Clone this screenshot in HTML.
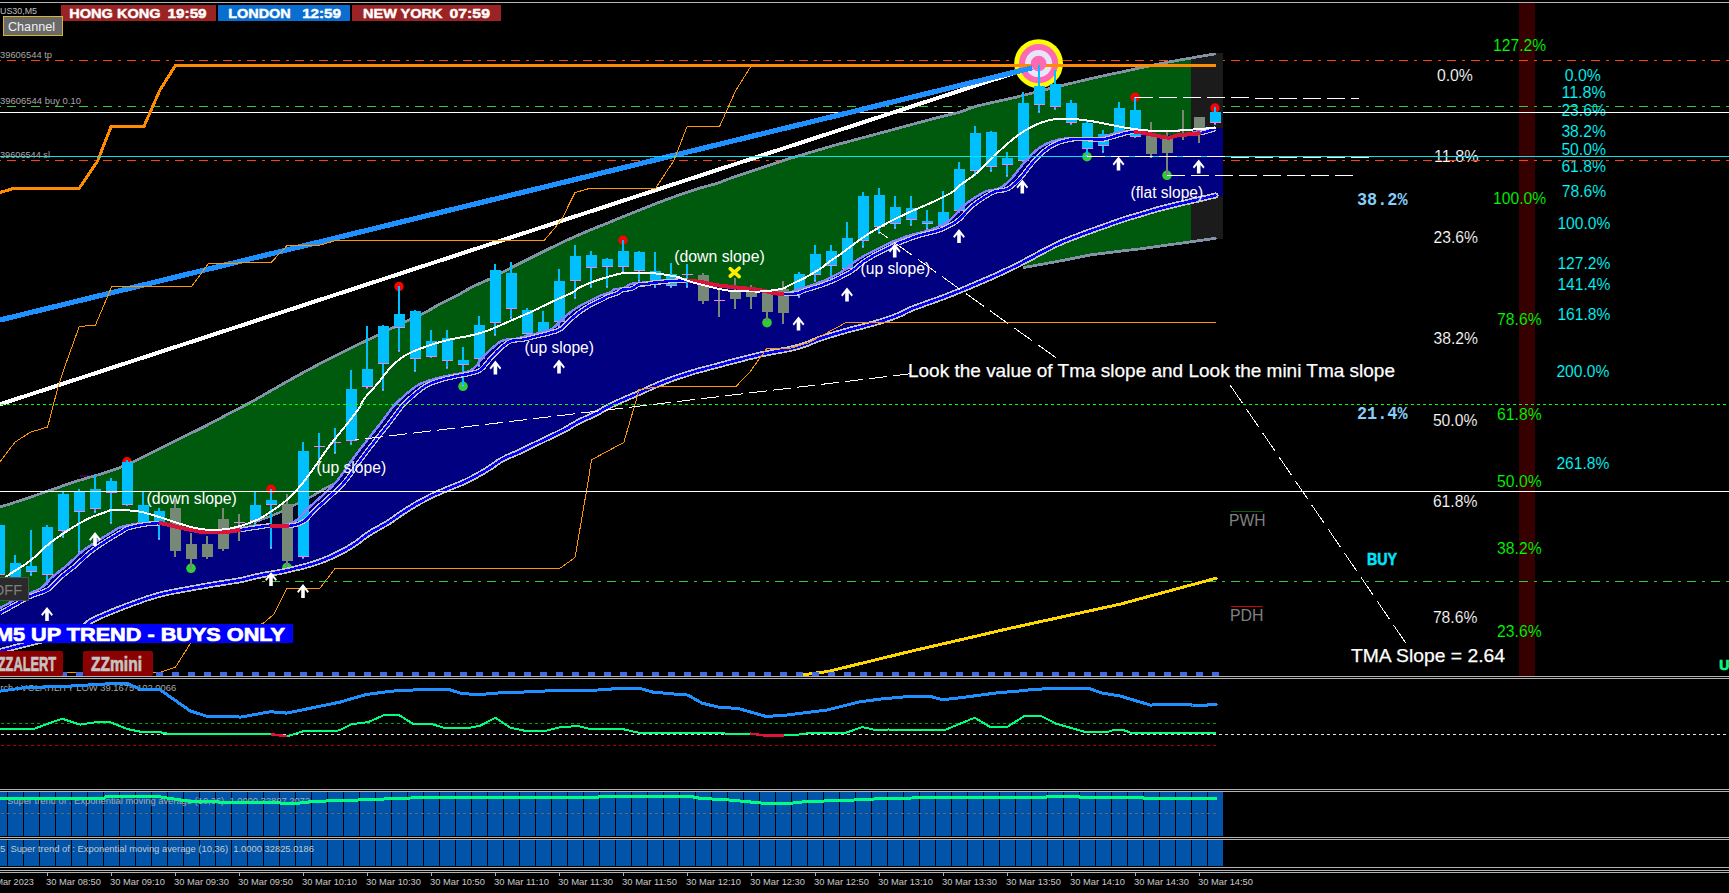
<!DOCTYPE html>
<html lang="en"><head><meta charset="utf-8"><title>US30 M5 chart</title>
<style>
html,body{margin:0;padding:0;background:#000;overflow:hidden}
svg{display:block}
text{white-space:pre}
</style></head>
<body>
<svg width="1729" height="893" viewBox="0 0 1729 893">
<g shape-rendering="crispEdges">
<rect x="0" y="0" width="1729" height="893" fill="#000000" />
<rect x="0" y="2" width="1729" height="1" fill="#b4b4b4" />
<rect x="1519" y="3" width="16" height="673" fill="#360000" />
</g>
<text x="1436.9" y="80.7" font-family="'Liberation Sans',sans-serif" font-size="16" fill="#ffffff" font-weight="normal" text-anchor="start" textLength="36" lengthAdjust="spacingAndGlyphs" stroke="#000" stroke-width="0.15">0.0%</text>
<text x="1434.1" y="162" font-family="'Liberation Sans',sans-serif" font-size="16" fill="#ffffff" font-weight="normal" text-anchor="start" textLength="44.5" lengthAdjust="spacingAndGlyphs" stroke="#000" stroke-width="0.15">11.8%</text>
<text x="1433.5" y="243.2" font-family="'Liberation Sans',sans-serif" font-size="16" fill="#ffffff" font-weight="normal" text-anchor="start" textLength="44.5" lengthAdjust="spacingAndGlyphs" stroke="#000" stroke-width="0.15">23.6%</text>
<text x="1433.5" y="344.4" font-family="'Liberation Sans',sans-serif" font-size="16" fill="#ffffff" font-weight="normal" text-anchor="start" textLength="44.5" lengthAdjust="spacingAndGlyphs" stroke="#000" stroke-width="0.15">38.2%</text>
<text x="1432.9" y="426.2" font-family="'Liberation Sans',sans-serif" font-size="16" fill="#ffffff" font-weight="normal" text-anchor="start" textLength="44.5" lengthAdjust="spacingAndGlyphs" stroke="#000" stroke-width="0.15">50.0%</text>
<text x="1432.9" y="507" font-family="'Liberation Sans',sans-serif" font-size="16" fill="#ffffff" font-weight="normal" text-anchor="start" textLength="44.5" lengthAdjust="spacingAndGlyphs" stroke="#000" stroke-width="0.15">61.8%</text>
<text x="1432.9" y="622.7" font-family="'Liberation Sans',sans-serif" font-size="16" fill="#ffffff" font-weight="normal" text-anchor="start" textLength="44.5" lengthAdjust="spacingAndGlyphs" stroke="#000" stroke-width="0.15">78.6%</text>
<text x="1493.1" y="50.5" font-family="'Liberation Sans',sans-serif" font-size="16" fill="#00ff00" font-weight="normal" text-anchor="start" textLength="53" lengthAdjust="spacingAndGlyphs" stroke="#000" stroke-width="0.15">127.2%</text>
<text x="1493.1" y="204.1" font-family="'Liberation Sans',sans-serif" font-size="16" fill="#00ff00" font-weight="normal" text-anchor="start" textLength="53" lengthAdjust="spacingAndGlyphs" stroke="#000" stroke-width="0.15">100.0%</text>
<text x="1497.1" y="325" font-family="'Liberation Sans',sans-serif" font-size="16" fill="#00ff00" font-weight="normal" text-anchor="start" textLength="44.5" lengthAdjust="spacingAndGlyphs" stroke="#000" stroke-width="0.15">78.6%</text>
<text x="1497.1" y="420.2" font-family="'Liberation Sans',sans-serif" font-size="16" fill="#00ff00" font-weight="normal" text-anchor="start" textLength="44.5" lengthAdjust="spacingAndGlyphs" stroke="#000" stroke-width="0.15">61.8%</text>
<text x="1497.1" y="487.4" font-family="'Liberation Sans',sans-serif" font-size="16" fill="#00ff00" font-weight="normal" text-anchor="start" textLength="44.5" lengthAdjust="spacingAndGlyphs" stroke="#000" stroke-width="0.15">50.0%</text>
<text x="1497.1" y="554.1" font-family="'Liberation Sans',sans-serif" font-size="16" fill="#00ff00" font-weight="normal" text-anchor="start" textLength="44.5" lengthAdjust="spacingAndGlyphs" stroke="#000" stroke-width="0.15">38.2%</text>
<text x="1497.1" y="637.3" font-family="'Liberation Sans',sans-serif" font-size="16" fill="#00ff00" font-weight="normal" text-anchor="start" textLength="44.5" lengthAdjust="spacingAndGlyphs" stroke="#000" stroke-width="0.15">23.6%</text>
<text x="1564.8" y="80.7" font-family="'Liberation Sans',sans-serif" font-size="16" fill="#00ffff" font-weight="normal" text-anchor="start" textLength="36" lengthAdjust="spacingAndGlyphs" stroke="#000" stroke-width="0.15">0.0%</text>
<text x="1561.4" y="98.2" font-family="'Liberation Sans',sans-serif" font-size="16" fill="#00ffff" font-weight="normal" text-anchor="start" textLength="44.5" lengthAdjust="spacingAndGlyphs" stroke="#000" stroke-width="0.15">11.8%</text>
<text x="1561.4" y="116.2" font-family="'Liberation Sans',sans-serif" font-size="16" fill="#00ffff" font-weight="normal" text-anchor="start" textLength="44.5" lengthAdjust="spacingAndGlyphs" stroke="#000" stroke-width="0.15">23.6%</text>
<text x="1561.4" y="136.9" font-family="'Liberation Sans',sans-serif" font-size="16" fill="#00ffff" font-weight="normal" text-anchor="start" textLength="44.5" lengthAdjust="spacingAndGlyphs" stroke="#000" stroke-width="0.15">38.2%</text>
<text x="1561.4" y="154.7" font-family="'Liberation Sans',sans-serif" font-size="16" fill="#00ffff" font-weight="normal" text-anchor="start" textLength="44.5" lengthAdjust="spacingAndGlyphs" stroke="#000" stroke-width="0.15">50.0%</text>
<text x="1561.4" y="172" font-family="'Liberation Sans',sans-serif" font-size="16" fill="#00ffff" font-weight="normal" text-anchor="start" textLength="44.5" lengthAdjust="spacingAndGlyphs" stroke="#000" stroke-width="0.15">61.8%</text>
<text x="1561.8" y="197" font-family="'Liberation Sans',sans-serif" font-size="16" fill="#00ffff" font-weight="normal" text-anchor="start" textLength="44.5" lengthAdjust="spacingAndGlyphs" stroke="#000" stroke-width="0.15">78.6%</text>
<text x="1557.4" y="229.1" font-family="'Liberation Sans',sans-serif" font-size="16" fill="#00ffff" font-weight="normal" text-anchor="start" textLength="53" lengthAdjust="spacingAndGlyphs" stroke="#000" stroke-width="0.15">100.0%</text>
<text x="1557.4" y="269.2" font-family="'Liberation Sans',sans-serif" font-size="16" fill="#00ffff" font-weight="normal" text-anchor="start" textLength="53" lengthAdjust="spacingAndGlyphs" stroke="#000" stroke-width="0.15">127.2%</text>
<text x="1557.4" y="290.3" font-family="'Liberation Sans',sans-serif" font-size="16" fill="#00ffff" font-weight="normal" text-anchor="start" textLength="53" lengthAdjust="spacingAndGlyphs" stroke="#000" stroke-width="0.15">141.4%</text>
<text x="1557.4" y="320.3" font-family="'Liberation Sans',sans-serif" font-size="16" fill="#00ffff" font-weight="normal" text-anchor="start" textLength="53" lengthAdjust="spacingAndGlyphs" stroke="#000" stroke-width="0.15">161.8%</text>
<text x="1556.4" y="377.1" font-family="'Liberation Sans',sans-serif" font-size="16" fill="#00ffff" font-weight="normal" text-anchor="start" textLength="53" lengthAdjust="spacingAndGlyphs" stroke="#000" stroke-width="0.15">200.0%</text>
<text x="1556.4" y="469.3" font-family="'Liberation Sans',sans-serif" font-size="16" fill="#00ffff" font-weight="normal" text-anchor="start" textLength="53" lengthAdjust="spacingAndGlyphs" stroke="#000" stroke-width="0.15">261.8%</text>
<g shape-rendering="crispEdges">
<line x1="0" y1="60.5" x2="1729" y2="60.5" stroke="#ff4500" stroke-width="1" stroke-dasharray="9 6 3 6" stroke-dashoffset="17"/>
<line x1="0" y1="106.5" x2="1729" y2="106.5" stroke="#32cd32" stroke-width="1" stroke-dasharray="9 6 3 6" stroke-dashoffset="17"/>
<line x1="0" y1="160.5" x2="1729" y2="160.5" stroke="#ff4500" stroke-width="1" stroke-dasharray="9 6 3 6" stroke-dashoffset="17"/>
<rect x="0" y="112" width="1729" height="1" fill="#ffffff" />
</g>
<g shape-rendering="crispEdges">
<polygon points="1191,58.0 1214.8,53.4 1223,53.4 1223,239 1215,239 1191,241.8" fill="#1b1b1b"/>
</g>
<polygon points="0.0,507.1 3.9,505.8 9.4,504.1 15.0,502.2 20.0,500.6 25.1,498.9 30.1,497.2 35.1,495.5 40.1,493.8 45.1,492.1 50.1,490.3 55.2,488.5 60.2,486.8 65.2,485.0 70.2,483.3 75.2,481.7 80.2,480.1 85.2,478.6 90.2,477.1 95.2,475.6 100.3,474.2 105.3,472.7 110.3,471.0 115.3,469.3 120.3,467.4 125.3,465.3 130.3,463.1 135.3,460.8 140.3,458.4 145.4,455.9 150.4,453.4 155.4,450.9 160.4,448.4 165.4,445.9 170.4,443.4 175.5,440.9 180.5,438.4 185.5,435.9 190.5,433.4 195.5,431.0 200.5,428.5 205.5,426.0 210.5,423.4 215.5,420.8 220.6,418.1 225.6,415.4 230.6,412.8 235.6,410.2 240.6,407.6 245.5,405.0 250.4,402.4 255.3,399.7 260.2,396.9 265.1,394.1 270.1,391.2 275.1,388.4 280.1,385.5 285.1,382.6 290.1,379.8 295.2,377.0 300.2,374.2 305.2,371.5 310.2,368.8 315.2,366.2 320.2,363.5 325.2,361.0 330.2,358.4 335.2,355.9 340.3,353.4 345.3,350.9 350.3,348.4 355.3,345.9 360.3,343.5 365.3,341.1 370.4,338.8 375.3,336.5 379.9,334.2 384.3,332.0 389.0,329.6 394.2,327.1 399.7,324.4 405.6,321.6 412.0,318.7 418.8,315.6 425.1,312.6 430.4,309.6 435.2,306.7 440.2,303.8 445.9,300.9 451.9,298.0 457.6,295.2 462.4,292.5 466.9,289.8 471.9,287.1 477.8,284.3 484.1,281.6 490.1,278.8 495.3,276.1 500.2,273.5 505.1,270.9 510.1,268.3 515.2,265.7 520.2,263.2 525.2,260.7 530.2,258.2 535.2,255.7 540.2,253.2 545.2,250.7 550.2,248.2 555.2,245.8 560.3,243.3 565.3,241.0 570.3,238.6 575.3,236.4 580.3,234.2 585.3,232.1 590.3,230.0 595.3,227.9 600.3,225.9 605.4,223.9 610.4,221.9 615.4,219.8 620.4,217.8 625.4,215.8 630.4,213.7 635.5,211.7 640.5,209.7 645.5,207.7 650.5,205.7 655.5,203.7 660.5,201.8 665.5,199.9 670.5,198.1 675.5,196.3 680.6,194.5 685.6,192.8 690.4,191.2 695.2,189.6 700.3,188.0 706.0,186.4 712.0,184.8 717.5,183.2 722.0,181.6 725.9,180.0 730.1,178.4 734.9,176.8 740.0,175.1 745.1,173.4 750.1,171.7 755.2,170.0 760.2,168.2 765.2,166.5 770.2,164.8 775.2,163.2 780.2,161.5 785.2,160.0 790.2,158.4 795.2,156.9 800.3,155.4 805.3,153.9 810.3,152.4 815.3,150.9 820.3,149.4 825.3,148.0 830.3,146.5 835.3,145.1 840.3,143.7 845.4,142.4 850.4,141.0 855.4,139.7 860.4,138.3 865.4,137.0 870.4,135.6 875.5,134.3 880.5,132.9 885.5,131.6 890.5,130.3 895.5,128.9 900.5,127.5 905.5,126.2 910.5,124.8 915.5,123.5 920.6,122.1 925.6,120.8 930.4,119.5 935.3,118.2 940.6,116.8 946.8,115.3 953.5,113.8 960.0,112.1 965.3,110.2 970.3,108.2 977.6,105.9 988.7,103.3 1001.9,100.4 1015.2,97.4 1027.7,94.2 1040.3,91.0 1052.8,87.8 1065.3,84.7 1077.9,81.7 1090.4,78.7 1102.9,75.9 1115.5,73.2 1128.0,70.6 1140.1,67.9 1152.2,65.3 1165.6,62.6 1183.0,59.4 1191.0,58.0 1191.0,134.2 1189.0,134.3 1183.0,134.8 1178.0,135.3 1174.7,136.0 1172.6,136.8 1170.5,137.5 1167.5,137.6 1163.2,137.0 1158.0,136.0 1152.8,134.8 1148.0,133.8 1143.9,133.1 1140.2,132.4 1136.6,132.0 1132.9,131.9 1129.1,132.4 1125.4,133.2 1121.6,134.3 1117.9,135.3 1114.2,136.4 1110.4,137.6 1106.7,138.7 1102.9,139.4 1099.2,139.6 1095.4,139.5 1091.7,139.2 1087.8,139.1 1083.7,139.0 1079.5,139.0 1075.4,139.0 1071.3,139.4 1067.4,140.1 1063.5,141.1 1059.7,142.2 1056.2,143.6 1053.0,145.1 1050.0,146.9 1047.1,148.8 1044.2,151.1 1041.2,153.7 1038.2,156.7 1035.2,159.9 1032.2,163.2 1029.2,166.9 1026.2,170.8 1023.2,174.7 1020.2,178.2 1017.2,181.3 1014.2,184.2 1011.2,186.7 1008.1,188.7 1004.8,189.9 1001.4,190.4 998.0,190.8 994.6,191.7 991.2,193.3 987.8,195.2 984.5,197.2 981.4,199.2 978.6,201.1 976.0,202.9 973.5,204.8 971.0,207.0 968.3,209.7 965.6,212.7 962.9,215.7 960.5,218.2 958.5,220.0 956.9,221.2 955.2,222.4 953.2,223.6 950.7,225.0 947.8,226.5 944.9,227.9 942.0,229.2 939.2,230.2 936.4,231.1 933.6,231.8 930.8,232.6 928.0,233.3 925.2,234.0 922.4,234.6 919.6,235.4 916.8,236.3 914.0,237.2 911.2,238.3 908.4,239.3 905.6,240.4 902.8,241.4 900.0,242.6 897.2,243.8 894.4,245.1 891.6,246.5 888.8,248.0 886.0,249.4 883.2,250.8 880.4,252.1 877.6,253.4 874.8,254.9 872.0,256.5 869.2,258.1 866.4,259.8 863.6,261.7 860.8,263.8 858.0,266.2 855.2,268.5 852.4,270.6 849.5,272.4 846.6,274.0 843.8,275.5 841.2,276.8 839.0,278.0 837.0,278.9 835.1,279.9 832.8,280.9 830.0,282.0 827.0,283.2 823.9,284.4 820.5,285.6 816.7,286.8 812.7,288.0 808.7,289.2 805.4,290.2 803.0,291.1 801.2,291.9 799.6,292.6 797.9,293.2 796.0,293.6 794.1,293.7 792.2,293.8 790.4,293.9 788.9,294.0 787.5,294.0 786.1,294.0 784.4,293.9 782.5,293.8 780.4,293.7 778.1,293.6 775.3,293.2 772.0,292.6 768.2,291.8 764.2,290.9 760.3,290.2 756.6,289.6 752.8,289.2 749.1,288.7 745.3,288.3 741.5,287.9 737.8,287.6 734.0,287.2 730.2,286.8 726.4,286.4 722.7,285.9 718.9,285.5 715.2,284.9 711.5,284.2 707.8,283.4 704.0,282.6 700.2,281.9 696.0,281.4 691.7,281.0 687.5,280.7 684.0,280.5 681.2,280.5 679.0,280.6 677.1,280.8 675.3,280.9 673.6,281.0 672.1,281.0 670.6,281.1 668.9,281.2 666.8,281.5 664.5,281.7 662.3,282.0 660.2,282.2 658.5,282.3 657.0,282.4 655.5,282.4 653.9,282.6 651.8,282.9 649.5,283.4 647.3,283.8 645.2,284.1 643.5,284.2 641.9,284.1 640.5,284.2 638.9,284.5 637.1,285.4 635.3,286.6 633.4,287.8 631.4,288.7 629.2,289.1 626.8,289.3 624.5,289.4 622.6,289.7 621.3,290.4 620.3,291.2 619.3,292.2 617.9,293.1 615.5,293.9 612.7,294.8 609.9,295.7 607.6,296.5 606.2,297.1 605.2,297.7 604.3,298.3 602.9,299.1 600.5,300.2 597.7,301.5 594.9,302.9 592.6,304.0 591.1,304.7 590.1,305.2 589.1,305.7 587.8,306.6 585.8,307.8 583.5,309.3 581.1,310.9 578.8,312.6 576.5,314.4 574.3,316.3 572.0,318.3 569.8,320.3 567.5,322.5 565.2,324.9 562.9,327.2 560.5,329.1 558.0,330.4 555.4,331.4 552.7,332.1 549.9,332.9 547.1,333.7 544.2,334.4 541.1,335.1 537.9,335.9 534.3,336.8 530.4,337.8 526.5,338.8 522.9,339.6 519.6,340.0 516.6,340.1 513.6,340.4 510.8,341.1 508.0,342.5 505.4,344.4 502.8,346.5 500.3,348.6 498.0,350.7 495.8,352.9 493.6,355.2 491.3,357.7 488.8,360.7 486.2,364.0 483.5,367.2 480.8,369.7 478.3,371.2 475.8,372.2 473.2,372.8 470.2,373.5 466.8,374.3 463.0,375.0 459.1,375.7 455.2,376.5 451.5,377.3 447.7,378.2 444.0,379.1 440.2,380.2 436.4,381.4 432.7,382.7 428.9,384.2 425.1,386.2 421.2,388.9 417.2,392.1 413.3,395.4 410.0,398.4 407.4,400.7 405.2,402.7 403.2,404.8 400.9,407.4 398.4,410.7 395.7,414.4 392.8,418.4 389.7,422.6 386.3,426.8 382.7,431.3 379.0,435.9 375.3,440.6 371.6,445.4 367.8,450.2 364.1,455.2 360.3,460.2 356.6,465.5 352.8,471.0 349.1,476.3 345.3,481.2 341.5,485.4 337.8,489.2 334.0,492.7 330.2,496.2 326.4,499.7 322.5,503.2 318.7,506.5 315.2,509.8 312.1,513.1 309.2,516.4 306.3,519.4 303.2,521.8 299.7,523.5 296.0,524.7 292.2,525.5 288.1,526.0 283.7,526.2 278.9,526.0 274.3,525.7 270.1,525.6 266.7,525.9 263.8,526.3 260.8,526.8 257.5,527.3 253.5,527.9 249.0,528.6 244.5,529.3 240.3,530.0 236.5,530.5 233.0,531.1 229.5,531.5 225.6,531.9 221.2,532.2 216.4,532.3 211.7,532.4 207.5,532.3 204.1,532.1 201.3,531.8 198.6,531.3 195.5,530.8 192.0,530.2 188.2,529.4 184.3,528.6 180.5,527.8 176.6,526.9 172.5,525.8 168.6,524.8 165.4,524.1 163.2,523.6 161.6,523.4 160.1,523.3 157.9,523.3 154.7,523.4 150.9,523.7 146.8,524.1 142.9,524.7 139.0,525.4 134.9,526.2 131.0,527.2 127.8,528.1 125.6,529.1 124.0,530.0 122.5,531.1 120.3,532.6 117.1,534.5 113.3,536.7 109.2,539.1 105.3,541.6 101.5,544.0 97.7,546.6 94.0,549.2 90.2,552.1 86.4,555.3 82.7,558.8 78.9,562.3 75.2,565.7 71.4,568.8 67.5,571.8 63.7,574.8 60.2,577.7 57.1,580.8 54.3,583.9 51.5,586.8 48.1,589.4 43.9,591.5 39.3,593.2 34.5,594.7 30.1,596.5 26.1,598.5 22.4,600.6 18.7,602.7 15.0,604.8 10.9,607.0 6.6,609.4 2.7,611.5 0.0,613.0" fill="#005a0e"/>
<polygon points="1024.0,261.7 1026.6,260.3 1030.4,258.3 1034.2,256.3 1037.9,254.2 1041.6,252.2 1045.4,250.2 1049.1,248.3 1052.8,246.4 1056.6,244.5 1060.5,242.7 1064.6,240.9 1068.8,239.3 1073.0,237.6 1077.2,236.1 1081.2,234.6 1085.1,233.1 1089.0,231.7 1092.9,230.3 1096.7,228.9 1100.5,227.6 1104.2,226.3 1108.0,225.0 1111.7,223.6 1115.4,222.3 1119.1,221.0 1123.0,219.7 1127.2,218.3 1131.6,217.0 1136.0,215.8 1140.2,214.5 1144.2,213.3 1148.0,212.1 1151.8,211.0 1155.5,209.9 1159.3,208.8 1163.0,207.9 1166.7,206.9 1170.5,206.0 1174.3,205.1 1178.0,204.2 1181.8,203.3 1185.6,202.4 1189.4,201.6 1191.0,201.2 1191.0,241.8 1140.0,248.9 1120.6,251.1 1090.5,254.9 1060.5,260.9 1024.0,267.5" fill="#005a0e"/>
<polygon points="254.5,522.4 259.0,520.6 280.1,512.3 295.1,504.8 310.2,497.3 325.2,488.3 334.2,483.8 334.2,492.5 334.0,492.7 330.2,496.2 326.4,499.7 322.5,503.2 318.7,506.5 315.2,509.8 312.1,513.1 309.2,516.4 306.3,519.4 303.2,521.8 299.7,523.5 296.0,524.7 292.2,525.5 288.1,526.0 283.7,526.2 278.9,526.0 274.3,525.7 270.1,525.6 266.7,525.9 263.8,526.3 260.8,526.8 257.5,527.3 254.5,527.8" fill="#00082a"/>
<polyline points="254.5,522.4 259.0,520.6 280.1,512.3 295.1,504.8 310.2,497.3 325.2,488.3 334.2,483.8" fill="none" stroke="#8492a6" stroke-width="2.4"  shape-rendering="crispEdges"/>
<rect x="80" y="475" width="13" height="2" fill="#3a0040" />
<polygon points="0.0,608.0 2.9,606.4 7.0,604.2 10.7,602.1 14.4,600.0 18.1,597.9 22.1,595.9 26.5,594.1 31.3,592.6 35.9,590.9 40.1,588.8 43.5,586.2 46.3,583.3 49.1,580.2 52.2,577.1 55.7,574.2 59.5,571.2 63.4,568.2 67.2,565.1 70.9,561.7 74.7,558.2 78.4,554.7 82.2,551.5 86.0,548.6 89.7,546.0 93.5,543.4 97.3,541.0 101.2,538.5 105.3,536.1 109.1,533.9 112.3,532.0 114.5,530.5 116.0,529.4 117.6,528.5 119.8,527.5 123.0,526.6 126.9,525.6 131.0,524.8 134.9,524.1 138.8,523.5 142.9,523.1 146.7,522.8 149.9,522.7 152.1,522.7 153.6,522.8 155.2,523.0 157.4,523.5 160.6,524.2 164.5,525.2 168.6,526.3 172.5,527.2 176.3,528.0 180.2,528.8 184.0,529.6 187.5,530.2 190.6,530.7 193.3,531.2 196.1,531.5 199.5,531.7 203.7,531.8 208.4,531.7 213.2,531.6 217.6,531.3 221.5,530.9 225.0,530.5 228.5,529.9 232.3,529.4 236.5,528.7 241.0,528.0 245.5,527.3 249.5,526.7 252.8,526.2 255.8,525.7 258.7,525.3 262.1,525.0 266.3,525.1 270.9,525.4 275.7,525.6 280.1,525.4 284.2,524.9 288.0,524.1 291.7,522.9 295.2,521.2 298.3,518.8 301.2,515.8 304.1,512.5 307.2,509.2 310.7,505.9 314.5,502.6 318.4,499.1 322.2,495.6 326.0,492.1 329.8,488.6 333.5,484.8 337.3,480.6 341.1,475.7 344.8,470.4 348.6,464.9 352.3,459.6 356.1,454.6 359.8,449.6 363.6,444.8 367.3,440.0 371.0,435.3 374.7,430.7 378.3,426.2 381.7,421.9 384.8,417.8 387.7,413.8 390.4,410.1 392.9,406.8 395.2,404.2 397.2,402.1 399.4,400.1 402.0,397.8 405.3,394.8 409.2,391.5 413.2,388.3 417.1,385.6 420.9,383.6 424.7,382.1 428.4,380.8 432.2,379.6 436.0,378.5 439.7,377.6 443.5,376.7 447.2,375.9 451.1,375.1 455.0,374.4 458.8,373.7 462.2,372.9 465.2,372.2 467.8,371.6 470.3,370.6 472.8,369.1 475.5,366.6 478.2,363.4 480.8,360.1 483.3,357.1 485.6,354.6 487.8,352.3 490.0,350.1 492.3,348.0 494.8,345.9 497.4,343.8 500.0,341.9 502.8,340.5 505.6,339.8 508.6,339.5 511.6,339.4 514.9,339.0 518.5,338.2 522.4,337.2 526.3,336.2 529.9,335.3 533.1,334.5 536.2,333.8 539.1,333.1 541.9,332.3 544.7,331.5 547.4,330.8 550.0,329.8 552.5,328.5 554.9,326.6 557.2,324.3 559.5,321.9 561.8,319.7 564.0,317.7 566.3,315.7 568.5,313.8 570.8,312.0 573.1,310.3 575.5,308.7 577.8,307.2 579.8,305.9 581.1,305.1 582.1,304.6 583.1,304.1 584.6,303.4 586.9,302.3 589.7,300.9 592.5,299.6 594.9,298.4 596.3,297.7 597.2,297.1 598.2,296.5 599.6,295.9 601.9,295.1 604.7,294.2 607.5,293.3 609.9,292.4 611.3,291.6 612.3,290.6 613.3,289.8 614.6,289.1 616.5,288.8 618.8,288.7 621.2,288.5 623.4,288.1 625.4,287.2 627.3,286.0 629.1,284.8 630.9,283.9 632.5,283.6 633.9,283.5 635.5,283.6 637.2,283.5 639.3,283.2 641.5,282.8 643.8,282.3 645.9,282.0 647.5,281.8 649.0,281.8 650.5,281.7 652.2,281.6 654.3,281.4 656.5,281.1 658.8,280.9 660.9,280.6 662.6,280.5 664.1,280.4 665.6,280.4 667.3,280.3 669.1,280.2 671.0,280.0 673.2,279.9 676.0,279.9 679.5,280.1 683.7,280.4 688.0,280.8 692.2,281.3 696.0,282.0 699.8,282.8 703.5,283.6 707.2,284.3 710.9,284.9 714.7,285.3 718.4,285.8 722.2,286.2 726.0,286.6 729.8,287.0 733.5,287.3 737.3,287.7 741.1,288.1 744.8,288.6 748.6,289.0 752.3,289.6 756.2,290.3 760.2,291.2 764.0,292.0 767.3,292.6 770.1,293.0 772.4,293.1 774.5,293.2 776.4,293.3 778.1,293.4 779.5,293.4 780.9,293.4 782.4,293.3 784.2,293.2 786.1,293.1 788.0,293.0 789.9,292.6 791.6,292.0 793.2,291.3 795.0,290.5 797.4,289.6 800.7,288.6 804.7,287.4 808.7,286.2 812.5,285.0 815.9,283.8 819.0,282.6 822.0,281.4 824.8,280.3 827.1,279.3 829.0,278.3 831.0,277.4 833.2,276.2 835.8,274.9 838.6,273.4 841.5,271.8 844.4,270.0 847.2,267.9 850.0,265.6 852.8,263.2 855.6,261.1 858.4,259.2 861.2,257.5 864.0,255.9 866.8,254.3 869.6,252.8 872.4,251.5 875.2,250.2 878.0,248.8 880.8,247.4 883.6,245.9 886.4,244.5 889.2,243.2 892.0,242.0 894.8,240.8 897.6,239.8 900.4,238.7 903.2,237.7 906.0,236.6 908.8,235.7 911.6,234.8 914.4,234.0 917.2,233.4 920.0,232.7 922.8,232.0 925.6,231.2 928.4,230.5 931.2,229.6 934.0,228.6 936.9,227.3 939.8,225.9 942.7,224.4 945.2,223.0 947.2,221.8 948.9,220.7 950.5,219.4 952.5,217.6 954.9,215.1 957.6,212.1 960.3,209.1 963.0,206.4 965.5,204.2 968.0,202.3 970.6,200.5 973.4,198.7 976.5,196.6 979.8,194.6 983.2,192.7 986.6,191.1 990.0,190.2 993.4,189.8 996.8,189.3 1000.1,188.1 1003.2,186.1 1006.2,183.6 1009.2,180.7 1012.2,177.6 1015.2,174.1 1018.2,170.2 1021.2,166.3 1024.2,162.6 1027.2,159.3 1030.2,156.1 1033.2,153.1 1036.2,150.5 1039.1,148.2 1042.0,146.3 1045.0,144.5 1048.2,143.0 1051.7,141.6 1055.5,140.5 1059.4,139.5 1063.3,138.8 1067.4,138.4 1071.5,138.4 1075.7,138.4 1079.8,138.5 1083.7,138.6 1087.4,138.9 1091.2,139.0 1094.9,138.8 1098.7,138.1 1102.4,137.0 1106.2,135.8 1109.9,134.7 1113.6,133.7 1117.4,132.6 1121.1,131.8 1124.9,131.3 1128.6,131.4 1132.2,131.8 1135.9,132.5 1140.0,133.2 1144.8,134.2 1150.0,135.4 1155.2,136.4 1159.5,137.0 1162.5,136.9 1164.6,136.2 1166.7,135.4 1170.0,134.7 1175.0,134.2 1181.0,133.7 1187.2,133.2 1192.6,132.5 1197.2,131.4 1201.5,130.1 1205.1,128.9 1207.6,128.0 1210.0,128.0 1216.8,128.2 1223.0,128.2 1223.0,196.5 1216.8,196.5 1212.9,196.1 1209.0,197.0 1204.7,198.1 1200.6,199.0 1196.9,199.9 1193.1,200.7 1189.4,201.6 1185.6,202.4 1181.8,203.3 1178.0,204.2 1174.3,205.1 1170.5,206.0 1166.7,206.9 1163.0,207.9 1159.3,208.8 1155.5,209.9 1151.8,211.0 1148.0,212.1 1144.2,213.3 1140.2,214.5 1136.0,215.8 1131.6,217.0 1127.2,218.3 1123.0,219.7 1119.1,221.0 1115.4,222.3 1111.7,223.6 1108.0,225.0 1104.2,226.3 1100.5,227.6 1096.7,228.9 1092.9,230.3 1089.0,231.7 1085.1,233.1 1081.2,234.6 1077.2,236.1 1073.0,237.6 1068.8,239.3 1064.6,240.9 1060.5,242.7 1056.6,244.5 1052.8,246.4 1049.1,248.3 1045.4,250.2 1041.6,252.2 1037.9,254.2 1034.2,256.3 1030.4,258.3 1026.6,260.3 1022.9,262.3 1019.1,264.3 1015.3,266.2 1011.5,268.0 1007.8,269.8 1004.0,271.6 1000.3,273.3 996.6,275.0 992.8,276.7 989.1,278.3 985.3,279.9 981.5,281.6 977.8,283.2 974.0,284.8 970.2,286.4 966.4,288.0 962.7,289.6 958.9,291.1 955.2,292.6 951.5,294.1 947.7,295.5 944.0,297.0 940.2,298.4 936.4,299.8 932.6,301.1 928.9,302.5 925.1,303.8 921.3,305.2 917.4,306.6 913.7,307.9 910.1,309.4 907.0,310.8 904.2,312.3 901.2,313.9 897.5,315.5 893.1,317.2 888.1,318.9 882.7,320.8 876.5,322.6 869.5,324.6 861.6,326.7 853.5,328.7 846.0,330.8 839.0,332.8 832.3,334.8 826.0,336.7 820.5,338.5 816.0,340.2 812.3,341.7 808.9,343.2 805.4,344.5 801.8,345.7 798.4,346.8 794.7,347.8 790.4,348.8 785.2,349.9 779.4,350.9 773.5,351.9 767.8,353.0 762.5,354.1 757.4,355.3 752.4,356.5 747.6,357.6 743.1,358.8 738.7,359.9 734.5,361.0 730.4,362.1 726.5,363.1 722.9,364.1 719.3,365.1 715.6,366.1 711.8,367.0 708.1,368.0 704.3,369.0 700.5,370.0 696.7,371.0 693.0,372.1 689.2,373.3 685.5,374.5 681.8,375.7 678.0,376.9 674.3,378.2 670.5,379.6 666.7,381.0 663.0,382.5 659.2,384.0 655.4,385.6 651.7,387.2 647.9,388.9 644.1,390.7 640.2,392.5 636.0,394.3 631.6,396.1 627.2,398.0 623.0,399.8 619.0,401.6 615.2,403.4 611.5,405.1 608.0,406.9 604.7,408.7 601.7,410.4 598.7,412.2 595.3,414.0 591.3,415.9 587.0,417.8 582.6,419.8 578.6,421.7 575.1,423.7 571.8,425.6 568.6,427.6 565.2,429.5 561.6,431.4 557.8,433.3 554.0,435.1 550.2,436.9 546.4,438.7 542.7,440.5 538.9,442.3 535.1,444.1 531.4,445.9 527.8,447.7 524.0,449.6 520.1,451.4 515.8,453.4 511.1,455.3 506.6,457.3 502.5,459.4 499.0,461.4 496.0,463.5 493.1,465.6 490.0,467.7 486.7,469.7 483.4,471.7 480.0,473.7 476.6,475.6 473.3,477.5 469.9,479.2 466.5,480.9 463.1,482.5 459.4,484.1 455.6,485.6 451.8,487.1 448.0,488.7 444.2,490.3 440.5,491.8 436.8,493.5 433.0,495.2 429.2,497.1 425.5,499.0 421.7,501.0 417.9,503.0 414.2,505.2 410.4,507.5 406.7,509.9 402.9,512.3 399.2,514.8 395.6,517.4 391.9,520.0 387.9,522.7 383.3,525.3 378.4,528.1 373.5,530.8 369.1,533.5 365.3,536.1 361.9,538.7 358.7,541.3 355.3,543.7 351.6,546.0 347.8,548.3 344.0,550.5 340.2,552.5 336.4,554.4 332.7,556.2 328.9,557.9 325.2,559.4 321.5,560.9 317.7,562.2 314.0,563.5 310.2,564.6 306.4,565.7 302.7,566.7 298.9,567.6 295.1,568.5 291.4,569.4 287.8,570.3 284.0,571.1 280.1,571.9 275.8,572.7 271.1,573.5 266.6,574.3 262.5,575.0 258.9,575.8 255.7,576.5 252.8,577.1 250.0,577.8 247.6,578.4 245.5,579.0 243.3,579.5 240.6,580.1 237.2,580.7 233.5,581.3 229.5,581.9 225.6,582.5 221.8,583.1 218.1,583.7 214.3,584.3 210.5,585.0 206.7,585.6 203.0,586.3 199.2,586.9 195.5,587.6 191.8,588.3 188.0,589.0 184.3,589.6 180.5,590.3 176.7,591.0 173.0,591.7 169.2,592.5 165.4,593.3 161.6,594.2 157.9,595.2 154.2,596.3 150.4,597.4 146.6,598.6 142.9,599.9 139.1,601.3 135.3,602.6 131.5,604.0 127.8,605.4 124.0,606.8 120.3,608.2 116.6,609.7 112.8,611.2 109.1,612.7 105.3,614.3 101.5,616.0 97.6,617.7 93.8,619.5 90.2,621.4 87.5,623.5 85.3,625.8 82.6,628.0 78.2,630.3 71.7,632.6 63.7,634.8 54.6,637.1 45.0,639.5 33.5,642.5 20.4,645.8 8.4,648.9 0.0,651.0" fill="#000080"/>
<circle cx="127" cy="461.7" r="4.7" fill="#ff0000"/>
<circle cx="271" cy="489.3" r="4.7" fill="#ff0000"/>
<circle cx="399" cy="286.5" r="4.7" fill="#ff0000"/>
<circle cx="623" cy="240.3" r="4.7" fill="#ff0000"/>
<circle cx="1135" cy="97.3" r="4.7" fill="#ff0000"/>
<circle cx="1215" cy="108" r="4.7" fill="#ff0000"/>
<circle cx="191" cy="568.3" r="4.8" fill="#32cd32"/>
<circle cx="287" cy="567.5" r="4.8" fill="#32cd32"/>
<circle cx="463" cy="386.3" r="4.8" fill="#32cd32"/>
<circle cx="767" cy="322.7" r="4.8" fill="#32cd32"/>
<circle cx="1087" cy="156.7" r="4.8" fill="#32cd32"/>
<circle cx="1167" cy="175.3" r="4.8" fill="#32cd32"/>
<polyline points="0.0,507.1 3.9,505.8 9.4,504.1 15.0,502.2 20.0,500.6 25.1,498.9 30.1,497.2 35.1,495.5 40.1,493.8 45.1,492.1 50.1,490.3 55.2,488.5 60.2,486.8 65.2,485.0 70.2,483.3 75.2,481.7 80.2,480.1 85.2,478.6 90.2,477.1 95.2,475.6 100.3,474.2 105.3,472.7 110.3,471.0 115.3,469.3 120.3,467.4 125.3,465.3 130.3,463.1 135.3,460.8 140.3,458.4 145.4,455.9 150.4,453.4 155.4,450.9 160.4,448.4 165.4,445.9 170.4,443.4 175.5,440.9 180.5,438.4 185.5,435.9 190.5,433.4 195.5,431.0 200.5,428.5 205.5,426.0 210.5,423.4 215.5,420.8 220.6,418.1 225.6,415.4 230.6,412.8 235.6,410.2 240.6,407.6 245.5,405.0 250.4,402.4 255.3,399.7 260.2,396.9 265.1,394.1 270.1,391.2 275.1,388.4 280.1,385.5 285.1,382.6 290.1,379.8 295.2,377.0 300.2,374.2 305.2,371.5 310.2,368.8 315.2,366.2 320.2,363.5 325.2,361.0 330.2,358.4 335.2,355.9 340.3,353.4 345.3,350.9 350.3,348.4 355.3,345.9 360.3,343.5 365.3,341.1 370.4,338.8 375.3,336.5 379.9,334.2 384.3,332.0 389.0,329.6 394.2,327.1 399.7,324.4 405.6,321.6 412.0,318.7 418.8,315.6 425.1,312.6 430.4,309.6 435.2,306.7 440.2,303.8 445.9,300.9 451.9,298.0 457.6,295.2 462.4,292.5 466.9,289.8 471.9,287.1 477.8,284.3 484.1,281.6 490.1,278.8 495.3,276.1 500.2,273.5 505.1,270.9 510.1,268.3 515.2,265.7 520.2,263.2 525.2,260.7 530.2,258.2 535.2,255.7 540.2,253.2 545.2,250.7 550.2,248.2 555.2,245.8 560.3,243.3 565.3,241.0 570.3,238.6 575.3,236.4 580.3,234.2 585.3,232.1 590.3,230.0 595.3,227.9 600.3,225.9 605.4,223.9 610.4,221.9 615.4,219.8 620.4,217.8 625.4,215.8 630.4,213.7 635.5,211.7 640.5,209.7 645.5,207.7 650.5,205.7 655.5,203.7 660.5,201.8 665.5,199.9 670.5,198.1 675.5,196.3 680.6,194.5 685.6,192.8 690.4,191.2 695.2,189.6 700.3,188.0 706.0,186.4 712.0,184.8 717.5,183.2 722.0,181.6 725.9,180.0 730.1,178.4 734.9,176.8 740.0,175.1 745.1,173.4 750.1,171.7 755.2,170.0 760.2,168.2 765.2,166.5 770.2,164.8 775.2,163.2 780.2,161.5 785.2,160.0 790.2,158.4 795.2,156.9 800.3,155.4 805.3,153.9 810.3,152.4 815.3,150.9 820.3,149.4 825.3,148.0 830.3,146.5 835.3,145.1 840.3,143.7 845.4,142.4 850.4,141.0 855.4,139.7 860.4,138.3 865.4,137.0 870.4,135.6 875.5,134.3 880.5,132.9 885.5,131.6 890.5,130.3 895.5,128.9 900.5,127.5 905.5,126.2 910.5,124.8 915.5,123.5 920.6,122.1 925.6,120.8 930.4,119.5 935.3,118.2 940.6,116.8 946.8,115.3 953.5,113.8 960.0,112.1 965.3,110.2 970.3,108.2 977.6,105.9 988.7,103.3 1001.9,100.4 1015.2,97.4 1027.7,94.2 1040.3,91.0 1052.8,87.8 1065.3,84.7 1077.9,81.7 1090.4,78.7 1102.9,75.9 1115.5,73.2 1128.0,70.6 1140.1,67.9 1152.2,65.3 1165.6,62.6 1183.0,59.4 1201.6,56.2 1214.8,53.9" fill="none" stroke="#8492a6" stroke-width="2.8" stroke-linecap="round" shape-rendering="crispEdges"/>
<polyline points="1024.0,267.5 1060.5,260.9 1090.5,254.9 1120.6,251.1 1140.0,248.9 1215.2,238.4" fill="none" stroke="#8492a6" stroke-width="2.8" stroke-linecap="round" shape-rendering="crispEdges"/>
<polyline points="0.0,192.5 13.4,188.5 79.0,188.5 97.5,161.3 111.0,126.7 143.8,126.7 159.6,90.7 175.4,65.5 1216.0,65.5" fill="none" stroke="#ff8c00" stroke-width="3" stroke-linejoin="round" shape-rendering="crispEdges"/>
<polyline points="0.0,404.3 1030.0,67.8" fill="none" stroke="#ffffff" stroke-width="4"  shape-rendering="crispEdges"/>
<polyline points="0.0,320.0 1032.3,67.8" fill="none" stroke="#1e90ff" stroke-width="5.2"  shape-rendering="crispEdges"/>
<g shape-rendering="crispEdges">
<rect x="-2" y="520" width="2" height="59" fill="#00bfff" />
<rect x="-6" y="525" width="11" height="50" fill="#00bfff" />
<rect x="-6" y="574" width="11" height="1" fill="#ee82ee" />
<rect x="-2" y="577" width="2" height="1" fill="#ee82ee" />
<rect x="14" y="555" width="2" height="30" fill="#00bfff" />
<rect x="10" y="563" width="11" height="18" fill="#00bfff" />
<rect x="10" y="580" width="11" height="1" fill="#ee82ee" />
<rect x="14" y="583" width="2" height="1" fill="#ee82ee" />
<rect x="30" y="530" width="2" height="46" fill="#00bfff" />
<rect x="26" y="566" width="11" height="6" fill="#00bfff" />
<rect x="26" y="571" width="11" height="1" fill="#ee82ee" />
<rect x="30" y="574" width="2" height="1" fill="#ee82ee" />
<rect x="46" y="525" width="2" height="60" fill="#00bfff" />
<rect x="42" y="527" width="11" height="48" fill="#00bfff" />
<rect x="42" y="574" width="11" height="1" fill="#ee82ee" />
<rect x="46" y="583" width="2" height="1" fill="#ee82ee" />
<rect x="62" y="492" width="2" height="46" fill="#00bfff" />
<rect x="58" y="494" width="11" height="37" fill="#00bfff" />
<rect x="58" y="530" width="11" height="1" fill="#ee82ee" />
<rect x="62" y="536" width="2" height="1" fill="#ee82ee" />
<rect x="78" y="489" width="2" height="64" fill="#00bfff" />
<rect x="74" y="492" width="11" height="20" fill="#00bfff" />
<rect x="74" y="511" width="11" height="1" fill="#ee82ee" />
<rect x="78" y="551" width="2" height="1" fill="#ee82ee" />
<rect x="94" y="475" width="2" height="38" fill="#00bfff" />
<rect x="90" y="489" width="11" height="20" fill="#00bfff" />
<rect x="90" y="508" width="11" height="1" fill="#ee82ee" />
<rect x="94" y="511" width="2" height="1" fill="#ee82ee" />
<rect x="110" y="478" width="2" height="46" fill="#00bfff" />
<rect x="106" y="481" width="11" height="12" fill="#00bfff" />
<rect x="106" y="492" width="11" height="1" fill="#ee82ee" />
<rect x="110" y="522" width="2" height="1" fill="#ee82ee" />
<rect x="126" y="460" width="2" height="46" fill="#00bfff" />
<rect x="122" y="462" width="11" height="43" fill="#00bfff" />
<rect x="122" y="504" width="11" height="1" fill="#ee82ee" />
<rect x="142" y="492" width="2" height="35" fill="#00bfff" />
<rect x="138" y="505" width="11" height="18" fill="#00bfff" />
<rect x="138" y="522" width="11" height="1" fill="#ee82ee" />
<rect x="142" y="525" width="2" height="1" fill="#ee82ee" />
<rect x="158" y="508" width="2" height="32" fill="#00bfff" />
<rect x="154" y="511" width="11" height="12" fill="#00bfff" />
<rect x="154" y="522" width="11" height="1" fill="#ee82ee" />
<rect x="158" y="538" width="2" height="1" fill="#ee82ee" />
<rect x="174" y="500" width="2" height="57" fill="#778877" />
<rect x="170" y="508" width="11" height="43" fill="#778877" />
<rect x="190" y="533" width="2" height="36" fill="#778877" />
<rect x="186" y="544" width="11" height="15" fill="#778877" />
<rect x="206" y="536" width="2" height="23" fill="#778877" />
<rect x="202" y="544" width="11" height="13" fill="#778877" />
<rect x="222" y="508" width="2" height="43" fill="#778877" />
<rect x="218" y="519" width="11" height="30" fill="#778877" />
<rect x="238" y="514" width="2" height="27" fill="#778877" />
<rect x="234" y="522" width="11" height="1" fill="#ee82ee" />
<rect x="254" y="492" width="2" height="33" fill="#00bfff" />
<rect x="250" y="505" width="11" height="16" fill="#00bfff" />
<rect x="250" y="520" width="11" height="1" fill="#ee82ee" />
<rect x="254" y="523" width="2" height="1" fill="#ee82ee" />
<rect x="270" y="489" width="2" height="60" fill="#00bfff" />
<rect x="266" y="500" width="11" height="5" fill="#00bfff" />
<rect x="266" y="504" width="11" height="1" fill="#ee82ee" />
<rect x="270" y="547" width="2" height="1" fill="#ee82ee" />
<rect x="286" y="494" width="2" height="75" fill="#778877" />
<rect x="282" y="504" width="11" height="57" fill="#778877" />
<rect x="302" y="442" width="2" height="117" fill="#00bfff" />
<rect x="298" y="451" width="11" height="106" fill="#00bfff" />
<rect x="298" y="556" width="11" height="1" fill="#ee82ee" />
<rect x="302" y="557" width="2" height="1" fill="#ee82ee" />
<rect x="318" y="433" width="2" height="29" fill="#00bfff" />
<rect x="314" y="446" width="11" height="1" fill="#ee82ee" />
<rect x="318" y="460" width="2" height="1" fill="#ee82ee" />
<rect x="334" y="428" width="2" height="26" fill="#00bfff" />
<rect x="330" y="442" width="11" height="1" fill="#ee82ee" />
<rect x="334" y="452" width="2" height="1" fill="#ee82ee" />
<rect x="350" y="370" width="2" height="75" fill="#00bfff" />
<rect x="346" y="389" width="11" height="52" fill="#00bfff" />
<rect x="346" y="440" width="11" height="1" fill="#ee82ee" />
<rect x="350" y="443" width="2" height="1" fill="#ee82ee" />
<rect x="366" y="326" width="2" height="63" fill="#00bfff" />
<rect x="362" y="369" width="11" height="18" fill="#00bfff" />
<rect x="362" y="386" width="11" height="1" fill="#ee82ee" />
<rect x="366" y="387" width="2" height="1" fill="#ee82ee" />
<rect x="382" y="325" width="2" height="66" fill="#00bfff" />
<rect x="378" y="326" width="11" height="38" fill="#00bfff" />
<rect x="378" y="363" width="11" height="1" fill="#ee82ee" />
<rect x="382" y="389" width="2" height="1" fill="#ee82ee" />
<rect x="398" y="286" width="2" height="66" fill="#00bfff" />
<rect x="394" y="314" width="11" height="14" fill="#00bfff" />
<rect x="394" y="327" width="11" height="1" fill="#ee82ee" />
<rect x="398" y="350" width="2" height="1" fill="#ee82ee" />
<rect x="414" y="310" width="2" height="62" fill="#00bfff" />
<rect x="410" y="311" width="11" height="48" fill="#00bfff" />
<rect x="410" y="358" width="11" height="1" fill="#ee82ee" />
<rect x="414" y="370" width="2" height="1" fill="#ee82ee" />
<rect x="430" y="330" width="2" height="28" fill="#00bfff" />
<rect x="426" y="341" width="11" height="16" fill="#00bfff" />
<rect x="426" y="356" width="11" height="1" fill="#ee82ee" />
<rect x="446" y="330" width="2" height="39" fill="#00bfff" />
<rect x="442" y="338" width="11" height="23" fill="#00bfff" />
<rect x="442" y="360" width="11" height="1" fill="#ee82ee" />
<rect x="446" y="367" width="2" height="1" fill="#ee82ee" />
<rect x="462" y="347" width="2" height="40" fill="#00bfff" />
<rect x="458" y="360" width="11" height="5" fill="#00bfff" />
<rect x="458" y="364" width="11" height="1" fill="#ee82ee" />
<rect x="462" y="385" width="2" height="1" fill="#ee82ee" />
<rect x="478" y="316" width="2" height="51" fill="#00bfff" />
<rect x="474" y="325" width="11" height="34" fill="#00bfff" />
<rect x="474" y="358" width="11" height="1" fill="#ee82ee" />
<rect x="478" y="365" width="2" height="1" fill="#ee82ee" />
<rect x="494" y="264" width="2" height="72" fill="#00bfff" />
<rect x="490" y="270" width="11" height="53" fill="#00bfff" />
<rect x="490" y="322" width="11" height="1" fill="#ee82ee" />
<rect x="494" y="334" width="2" height="1" fill="#ee82ee" />
<rect x="510" y="262" width="2" height="57" fill="#00bfff" />
<rect x="506" y="273" width="11" height="36" fill="#00bfff" />
<rect x="506" y="308" width="11" height="1" fill="#ee82ee" />
<rect x="510" y="317" width="2" height="1" fill="#ee82ee" />
<rect x="526" y="308" width="2" height="30" fill="#00bfff" />
<rect x="522" y="310" width="11" height="24" fill="#00bfff" />
<rect x="522" y="333" width="11" height="1" fill="#ee82ee" />
<rect x="526" y="336" width="2" height="1" fill="#ee82ee" />
<rect x="542" y="311" width="2" height="24" fill="#00bfff" />
<rect x="538" y="322" width="11" height="12" fill="#00bfff" />
<rect x="538" y="333" width="11" height="1" fill="#ee82ee" />
<rect x="558" y="269" width="2" height="59" fill="#00bfff" />
<rect x="554" y="281" width="11" height="41" fill="#00bfff" />
<rect x="554" y="321" width="11" height="1" fill="#ee82ee" />
<rect x="558" y="326" width="2" height="1" fill="#ee82ee" />
<rect x="574" y="245" width="2" height="54" fill="#00bfff" />
<rect x="570" y="256" width="11" height="25" fill="#00bfff" />
<rect x="570" y="280" width="11" height="1" fill="#ee82ee" />
<rect x="574" y="297" width="2" height="1" fill="#ee82ee" />
<rect x="590" y="251" width="2" height="37" fill="#00bfff" />
<rect x="586" y="255" width="11" height="13" fill="#00bfff" />
<rect x="586" y="267" width="11" height="1" fill="#ee82ee" />
<rect x="590" y="286" width="2" height="1" fill="#ee82ee" />
<rect x="606" y="258" width="2" height="30" fill="#00bfff" />
<rect x="602" y="259" width="11" height="8" fill="#00bfff" />
<rect x="602" y="266" width="11" height="1" fill="#ee82ee" />
<rect x="606" y="286" width="2" height="1" fill="#ee82ee" />
<rect x="622" y="240" width="2" height="33" fill="#00bfff" />
<rect x="618" y="251" width="11" height="16" fill="#00bfff" />
<rect x="618" y="266" width="11" height="1" fill="#ee82ee" />
<rect x="622" y="271" width="2" height="1" fill="#ee82ee" />
<rect x="638" y="251" width="2" height="31" fill="#00bfff" />
<rect x="634" y="252" width="11" height="19" fill="#00bfff" />
<rect x="634" y="270" width="11" height="1" fill="#ee82ee" />
<rect x="638" y="280" width="2" height="1" fill="#ee82ee" />
<rect x="654" y="252" width="2" height="36" fill="#00bfff" />
<rect x="650" y="271" width="11" height="11" fill="#00bfff" />
<rect x="650" y="281" width="11" height="1" fill="#ee82ee" />
<rect x="654" y="286" width="2" height="1" fill="#ee82ee" />
<rect x="670" y="263" width="2" height="25" fill="#00bfff" />
<rect x="666" y="274" width="11" height="12" fill="#00bfff" />
<rect x="666" y="285" width="11" height="1" fill="#ee82ee" />
<rect x="670" y="286" width="2" height="1" fill="#ee82ee" />
<rect x="686" y="264" width="2" height="24" fill="#00bfff" />
<rect x="682" y="274" width="11" height="1" fill="#ee82ee" />
<rect x="686" y="286" width="2" height="1" fill="#ee82ee" />
<rect x="702" y="273" width="2" height="31" fill="#778877" />
<rect x="698" y="275" width="11" height="26" fill="#778877" />
<rect x="718" y="290" width="2" height="27" fill="#778877" />
<rect x="714" y="300" width="11" height="1" fill="#ee82ee" />
<rect x="734" y="278" width="2" height="31" fill="#778877" />
<rect x="730" y="291" width="11" height="8" fill="#778877" />
<rect x="750" y="285" width="2" height="24" fill="#778877" />
<rect x="746" y="292" width="11" height="5" fill="#778877" />
<rect x="766" y="292" width="2" height="29" fill="#778877" />
<rect x="762" y="293" width="11" height="19" fill="#778877" />
<rect x="782" y="281" width="2" height="43" fill="#778877" />
<rect x="778" y="289" width="11" height="24" fill="#778877" />
<rect x="798" y="272" width="2" height="26" fill="#00bfff" />
<rect x="794" y="274" width="11" height="16" fill="#00bfff" />
<rect x="794" y="289" width="11" height="1" fill="#ee82ee" />
<rect x="798" y="296" width="2" height="1" fill="#ee82ee" />
<rect x="814" y="245" width="2" height="37" fill="#00bfff" />
<rect x="810" y="254" width="11" height="21" fill="#00bfff" />
<rect x="810" y="274" width="11" height="1" fill="#ee82ee" />
<rect x="814" y="280" width="2" height="1" fill="#ee82ee" />
<rect x="830" y="245" width="2" height="34" fill="#00bfff" />
<rect x="826" y="251" width="11" height="15" fill="#00bfff" />
<rect x="826" y="265" width="11" height="1" fill="#ee82ee" />
<rect x="830" y="277" width="2" height="1" fill="#ee82ee" />
<rect x="846" y="222" width="2" height="48" fill="#00bfff" />
<rect x="842" y="238" width="11" height="31" fill="#00bfff" />
<rect x="842" y="268" width="11" height="1" fill="#ee82ee" />
<rect x="862" y="192" width="2" height="56" fill="#00bfff" />
<rect x="858" y="196" width="11" height="45" fill="#00bfff" />
<rect x="858" y="240" width="11" height="1" fill="#ee82ee" />
<rect x="862" y="246" width="2" height="1" fill="#ee82ee" />
<rect x="878" y="188" width="2" height="46" fill="#00bfff" />
<rect x="874" y="195" width="11" height="32" fill="#00bfff" />
<rect x="874" y="226" width="11" height="1" fill="#ee82ee" />
<rect x="878" y="232" width="2" height="1" fill="#ee82ee" />
<rect x="894" y="196" width="2" height="33" fill="#00bfff" />
<rect x="890" y="207" width="11" height="17" fill="#00bfff" />
<rect x="890" y="223" width="11" height="1" fill="#ee82ee" />
<rect x="894" y="227" width="2" height="1" fill="#ee82ee" />
<rect x="910" y="196" width="2" height="30" fill="#00bfff" />
<rect x="906" y="208" width="11" height="12" fill="#00bfff" />
<rect x="906" y="219" width="11" height="1" fill="#ee82ee" />
<rect x="910" y="224" width="2" height="1" fill="#ee82ee" />
<rect x="926" y="210" width="2" height="20" fill="#00bfff" />
<rect x="922" y="221" width="11" height="3" fill="#00bfff" />
<rect x="922" y="223" width="11" height="1" fill="#ee82ee" />
<rect x="926" y="228" width="2" height="1" fill="#ee82ee" />
<rect x="942" y="191" width="2" height="38" fill="#00bfff" />
<rect x="938" y="212" width="11" height="15" fill="#00bfff" />
<rect x="938" y="226" width="11" height="1" fill="#ee82ee" />
<rect x="942" y="227" width="2" height="1" fill="#ee82ee" />
<rect x="958" y="162" width="2" height="51" fill="#00bfff" />
<rect x="954" y="169" width="11" height="42" fill="#00bfff" />
<rect x="954" y="210" width="11" height="1" fill="#ee82ee" />
<rect x="958" y="211" width="2" height="1" fill="#ee82ee" />
<rect x="974" y="126" width="2" height="50" fill="#00bfff" />
<rect x="970" y="133" width="11" height="38" fill="#00bfff" />
<rect x="970" y="170" width="11" height="1" fill="#ee82ee" />
<rect x="974" y="174" width="2" height="1" fill="#ee82ee" />
<rect x="990" y="131" width="2" height="41" fill="#00bfff" />
<rect x="986" y="132" width="11" height="35" fill="#00bfff" />
<rect x="986" y="166" width="11" height="1" fill="#ee82ee" />
<rect x="990" y="170" width="2" height="1" fill="#ee82ee" />
<rect x="1006" y="152" width="2" height="25" fill="#00bfff" />
<rect x="1002" y="158" width="11" height="7" fill="#00bfff" />
<rect x="1002" y="164" width="11" height="1" fill="#ee82ee" />
<rect x="1006" y="175" width="2" height="1" fill="#ee82ee" />
<rect x="1022" y="92" width="2" height="70" fill="#00bfff" />
<rect x="1018" y="103" width="11" height="58" fill="#00bfff" />
<rect x="1018" y="160" width="11" height="1" fill="#ee82ee" />
<rect x="1038" y="65" width="2" height="48" fill="#00bfff" />
<rect x="1034" y="86" width="11" height="19" fill="#00bfff" />
<rect x="1034" y="104" width="11" height="1" fill="#ee82ee" />
<rect x="1038" y="111" width="2" height="1" fill="#ee82ee" />
<rect x="1054" y="70" width="2" height="40" fill="#00bfff" />
<rect x="1050" y="84" width="11" height="23" fill="#00bfff" />
<rect x="1050" y="106" width="11" height="1" fill="#ee82ee" />
<rect x="1054" y="108" width="2" height="1" fill="#ee82ee" />
<rect x="1070" y="100" width="2" height="25" fill="#00bfff" />
<rect x="1066" y="103" width="11" height="20" fill="#00bfff" />
<rect x="1066" y="122" width="11" height="1" fill="#ee82ee" />
<rect x="1070" y="123" width="2" height="1" fill="#ee82ee" />
<rect x="1086" y="121" width="2" height="36" fill="#00bfff" />
<rect x="1082" y="123" width="11" height="26" fill="#00bfff" />
<rect x="1082" y="148" width="11" height="1" fill="#ee82ee" />
<rect x="1086" y="155" width="2" height="1" fill="#ee82ee" />
<rect x="1102" y="130" width="2" height="23" fill="#00bfff" />
<rect x="1098" y="134" width="11" height="12" fill="#00bfff" />
<rect x="1098" y="145" width="11" height="1" fill="#ee82ee" />
<rect x="1102" y="151" width="2" height="1" fill="#ee82ee" />
<rect x="1118" y="102" width="2" height="33" fill="#00bfff" />
<rect x="1114" y="108" width="11" height="25" fill="#00bfff" />
<rect x="1114" y="132" width="11" height="1" fill="#ee82ee" />
<rect x="1118" y="133" width="2" height="1" fill="#ee82ee" />
<rect x="1134" y="97" width="2" height="41" fill="#00bfff" />
<rect x="1130" y="110" width="11" height="27" fill="#00bfff" />
<rect x="1130" y="136" width="11" height="1" fill="#ee82ee" />
<rect x="1150" y="122" width="2" height="36" fill="#778877" />
<rect x="1146" y="136" width="11" height="18" fill="#778877" />
<rect x="1166" y="132" width="2" height="44" fill="#778877" />
<rect x="1162" y="139" width="11" height="14" fill="#778877" />
<rect x="1182" y="110" width="2" height="30" fill="#778877" />
<rect x="1178" y="129" width="11" height="1" fill="#ee82ee" />
<rect x="1198" y="117" width="2" height="26" fill="#778877" />
<rect x="1194" y="117" width="11" height="11" fill="#778877" />
<rect x="1214" y="107" width="2" height="18" fill="#00bfff" />
<rect x="1210" y="112" width="11" height="11" fill="#00bfff" />
<rect x="1210" y="122" width="11" height="1" fill="#ee82ee" />
<rect x="1214" y="123" width="2" height="1" fill="#ee82ee" />
</g>
<polyline points="-8.0,612.4 -5.3,610.9 -1.4,608.8 2.9,606.4 7.0,604.2 10.7,602.1 14.4,600.0 18.1,597.9 22.1,595.9 26.5,594.1 31.3,592.6 35.9,590.9 40.1,588.8 43.5,586.2 46.3,583.3 49.1,580.2 52.2,577.1 55.7,574.2 59.5,571.2 63.4,568.2 67.2,565.1 70.9,561.7 74.7,558.2 78.4,554.7 82.2,551.5 86.0,548.6 89.7,546.0 93.5,543.4 97.3,541.0 101.2,538.5 105.3,536.1 109.1,533.9 112.3,532.0 114.5,530.5 116.0,529.4 117.6,528.5 119.8,527.5 123.0,526.6 126.9,525.6 131.0,524.8 134.9,524.1 138.8,523.5 142.9,523.1 146.7,522.8 149.9,522.7 150.6,522.7" fill="none" stroke="#8484fc" stroke-width="2.4" stroke-linejoin="round" shape-rendering="crispEdges"/>
<polyline points="232.6,529.3 236.5,528.7 241.0,528.0 245.5,527.3 249.5,526.7 252.8,526.2 255.8,525.7 258.7,525.3 262.1,525.0 262.3,525.0" fill="none" stroke="#8484fc" stroke-width="2.4" stroke-linejoin="round" shape-rendering="crispEdges"/>
<polyline points="281.1,525.3 284.2,524.9 288.0,524.1 291.7,522.9 295.2,521.2 298.3,518.8 301.2,515.8 304.1,512.5 307.2,509.2 310.7,505.9 314.5,502.6 318.4,499.1 322.2,495.6 326.0,492.1 329.8,488.6 333.5,484.8 337.3,480.6 341.1,475.7 344.8,470.4 348.6,464.9 352.3,459.6 356.1,454.6 359.8,449.6 363.6,444.8 367.3,440.0 371.0,435.3 374.7,430.7 378.3,426.2 381.7,421.9 384.8,417.8 387.7,413.8 390.4,410.1 392.9,406.8 395.2,404.2 397.2,402.1 399.4,400.1 402.0,397.8 405.3,394.8 409.2,391.5 413.2,388.3 417.1,385.6 420.9,383.6 424.7,382.1 428.4,380.8 432.2,379.6 436.0,378.5 439.7,377.6 443.5,376.7 447.2,375.9 451.1,375.1 455.0,374.4 458.8,373.7 462.2,372.9 465.2,372.2 467.8,371.6 470.3,370.6 472.8,369.1 475.5,366.6 478.2,363.4 480.8,360.1 483.3,357.1 485.6,354.6 487.8,352.3 490.0,350.1 492.3,348.0 494.8,345.9 497.4,343.8 500.0,341.9 502.8,340.5 505.6,339.8 508.6,339.5 511.6,339.4 514.9,339.0 518.5,338.2 522.4,337.2 526.3,336.2 529.9,335.3 533.1,334.5 536.2,333.8 539.1,333.1 541.9,332.3 544.7,331.5 547.4,330.8 550.0,329.8 552.5,328.5 554.9,326.6 557.2,324.3 559.5,321.9 561.8,319.7 564.0,317.7 566.3,315.7 568.5,313.8 570.8,312.0 573.1,310.3 575.5,308.7 577.8,307.2 579.8,305.9 581.1,305.1 582.1,304.6 583.1,304.1 584.6,303.4 586.9,302.3 589.7,300.9 592.5,299.6 594.9,298.4 596.3,297.7 597.2,297.1 598.2,296.5 599.6,295.9 601.9,295.1 604.7,294.2 607.5,293.3 609.9,292.4 611.3,291.6 612.3,290.6 613.3,289.8 614.6,289.1 616.5,288.8 618.8,288.7 621.2,288.5 623.4,288.1 625.4,287.2 627.3,286.0 629.1,284.8 630.9,283.9 632.5,283.6 633.9,283.5 635.5,283.6 637.2,283.5 639.3,283.2 641.5,282.8 643.8,282.3 645.9,282.0 647.5,281.8 649.0,281.8 650.5,281.7 652.2,281.6 654.3,281.4 656.5,281.1 658.8,280.9 660.9,280.6 662.6,280.5 664.1,280.4 665.6,280.4 667.3,280.3 669.1,280.2 671.0,280.0 673.2,279.9 676.0,279.9 678.5,280.1" fill="none" stroke="#8484fc" stroke-width="2.4" stroke-linejoin="round" shape-rendering="crispEdges"/>
<polyline points="776.4,293.3 778.1,293.4 779.5,293.4 780.9,293.4 782.4,293.3 784.2,293.2 786.1,293.1 788.0,293.0 789.9,292.6 791.6,292.0 793.2,291.3 795.0,290.5 797.4,289.6 800.7,288.6 804.7,287.4 808.7,286.2 812.5,285.0 815.9,283.8 819.0,282.6 822.0,281.4 824.8,280.3 827.1,279.3 829.0,278.3 831.0,277.4 833.2,276.2 835.8,274.9 838.6,273.4 841.5,271.8 844.4,270.0 847.2,267.9 850.0,265.6 852.8,263.2 855.6,261.1 858.4,259.2 861.2,257.5 864.0,255.9 866.8,254.3 869.6,252.8 872.4,251.5 875.2,250.2 878.0,248.8 880.8,247.4 883.6,245.9 886.4,244.5 889.2,243.2 892.0,242.0 894.8,240.8 897.6,239.8 900.4,238.7 903.2,237.7 906.0,236.6 908.8,235.7 911.6,234.8 914.4,234.0 917.2,233.4 920.0,232.7 922.8,232.0 925.6,231.2 928.4,230.5 931.2,229.6 934.0,228.6 936.9,227.3 939.8,225.9 942.7,224.4 945.2,223.0 947.2,221.8 948.9,220.7 950.5,219.4 952.5,217.6 954.9,215.1 957.6,212.1 960.3,209.1 963.0,206.4 965.5,204.2 968.0,202.3 970.6,200.5 973.4,198.7 976.5,196.6 979.8,194.6 983.2,192.7 986.6,191.1 990.0,190.2 993.4,189.8 996.8,189.3 1000.1,188.1 1003.2,186.1 1006.2,183.6 1009.2,180.7 1012.2,177.6 1015.2,174.1 1018.2,170.2 1021.2,166.3 1024.2,162.6 1027.2,159.3 1030.2,156.1 1033.2,153.1 1036.2,150.5 1039.1,148.2 1042.0,146.3 1045.0,144.5 1048.2,143.0 1051.7,141.6 1055.5,140.5 1059.4,139.5 1063.3,138.8 1067.4,138.4 1071.5,138.4 1075.7,138.4 1079.8,138.5 1083.7,138.6 1087.4,138.9 1091.2,139.0 1094.9,138.8 1098.7,138.1 1102.4,137.0 1106.2,135.8 1109.9,134.7 1113.6,133.7 1117.4,132.6 1121.1,131.8 1124.9,131.3 1126.4,131.3" fill="none" stroke="#8484fc" stroke-width="2.4" stroke-linejoin="round" shape-rendering="crispEdges"/>
<polyline points="1192.6,132.5 1197.2,131.4 1201.5,130.1 1205.1,128.9 1207.6,128.0" fill="none" stroke="#8484fc" stroke-width="2.4" stroke-linejoin="round" shape-rendering="crispEdges"/>
<polyline points="0.0,613.0 2.7,611.5 6.6,609.4 10.9,607.0 15.0,604.8 18.7,602.7 22.4,600.6 26.1,598.5 30.1,596.5 34.5,594.7 39.3,593.2 43.9,591.5 48.1,589.4 51.5,586.8 54.3,583.9 57.1,580.8 60.2,577.7 63.7,574.8 67.5,571.8 71.4,568.8 75.2,565.7 78.9,562.3 82.7,558.8 86.4,555.3 90.2,552.1 94.0,549.2 97.7,546.6 101.5,544.0 105.3,541.6 109.2,539.1 113.3,536.7 117.1,534.5 120.3,532.6 122.5,531.1 124.0,530.0 125.6,529.1 127.8,528.1 131.0,527.2 134.9,526.2 139.0,525.4 142.9,524.7 146.8,524.1 150.9,523.7 154.7,523.4 157.9,523.3 158.6,523.3" fill="none" stroke="#cfc8b4" stroke-width="4.8" stroke-linejoin="round" shape-rendering="crispEdges"/>
<polyline points="0.0,613.0 2.7,611.5 6.6,609.4 10.9,607.0 15.0,604.8 18.7,602.7 22.4,600.6 26.1,598.5 30.1,596.5 34.5,594.7 39.3,593.2 43.9,591.5 48.1,589.4 51.5,586.8 54.3,583.9 57.1,580.8 60.2,577.7 63.7,574.8 67.5,571.8 71.4,568.8 75.2,565.7 78.9,562.3 82.7,558.8 86.4,555.3 90.2,552.1 94.0,549.2 97.7,546.6 101.5,544.0 105.3,541.6 109.2,539.1 113.3,536.7 117.1,534.5 120.3,532.6 122.5,531.1 124.0,530.0 125.6,529.1 127.8,528.1 131.0,527.2 134.9,526.2 139.0,525.4 142.9,524.7 146.8,524.1 150.9,523.7 154.7,523.4 157.9,523.3 158.6,523.3" fill="none" stroke="#0000ff" stroke-width="2.4" stroke-linejoin="round" shape-rendering="crispEdges"/>
<polyline points="240.6,529.9 244.5,529.3 249.0,528.6 253.5,527.9 257.5,527.3 260.8,526.8 263.8,526.3 266.7,525.9 270.1,525.6 270.3,525.6" fill="none" stroke="#cfc8b4" stroke-width="4.8" stroke-linejoin="round" shape-rendering="crispEdges"/>
<polyline points="240.6,529.9 244.5,529.3 249.0,528.6 253.5,527.9 257.5,527.3 260.8,526.8 263.8,526.3 266.7,525.9 270.1,525.6 270.3,525.6" fill="none" stroke="#0000ff" stroke-width="2.4" stroke-linejoin="round" shape-rendering="crispEdges"/>
<polyline points="289.1,525.9 292.2,525.5 296.0,524.7 299.7,523.5 303.2,521.8 306.3,519.4 309.2,516.4 312.1,513.1 315.2,509.8 318.7,506.5 322.5,503.2 326.4,499.7 330.2,496.2 334.0,492.7 337.8,489.2 341.5,485.4 345.3,481.2 349.1,476.3 352.8,471.0 356.6,465.5 360.3,460.2 364.1,455.2 367.8,450.2 371.6,445.4 375.3,440.6 379.0,435.9 382.7,431.3 386.3,426.8 389.7,422.6 392.8,418.4 395.7,414.4 398.4,410.7 400.9,407.4 403.2,404.8 405.2,402.7 407.4,400.7 410.0,398.4 413.3,395.4 417.2,392.1 421.2,388.9 425.1,386.2 428.9,384.2 432.7,382.7 436.4,381.4 440.2,380.2 444.0,379.1 447.7,378.2 451.5,377.3 455.2,376.5 459.1,375.7 463.0,375.0 466.8,374.3 470.2,373.5 473.2,372.8 475.8,372.2 478.3,371.2 480.8,369.7 483.5,367.2 486.2,364.0 488.8,360.7 491.3,357.7 493.6,355.2 495.8,352.9 498.0,350.7 500.3,348.6 502.8,346.5 505.4,344.4 508.0,342.5 510.8,341.1 513.6,340.4 516.6,340.1 519.6,340.0 522.9,339.6 526.5,338.8 530.4,337.8 534.3,336.8 537.9,335.9 541.1,335.1 544.2,334.4 547.1,333.7 549.9,332.9 552.7,332.1 555.4,331.4 558.0,330.4 560.5,329.1 562.9,327.2 565.2,324.9 567.5,322.5 569.8,320.3 572.0,318.3 574.3,316.3 576.5,314.4 578.8,312.6 581.1,310.9 583.5,309.3 585.8,307.8 587.8,306.6 589.1,305.7 590.1,305.2 591.1,304.7 592.6,304.0 594.9,302.9 597.7,301.5 600.5,300.2 602.9,299.1 604.3,298.3 605.2,297.7 606.2,297.1 607.6,296.5 609.9,295.7 612.7,294.8 615.5,293.9 617.9,293.1 619.3,292.2 620.3,291.2 621.3,290.4 622.6,289.7 624.5,289.4 626.8,289.3 629.2,289.1 631.4,288.7 633.4,287.8 635.3,286.6 637.1,285.4 638.9,284.5 640.5,284.2 641.9,284.1 643.5,284.2 645.2,284.1 647.3,283.8 649.5,283.4 651.8,282.9 653.9,282.6 655.5,282.4 657.0,282.4 658.5,282.3 660.2,282.2 662.3,282.0 664.5,281.7 666.8,281.5 668.9,281.2 670.6,281.1 672.1,281.0 673.6,281.0 675.3,280.9 677.1,280.8 679.0,280.6 681.2,280.5 684.0,280.5 686.5,280.7" fill="none" stroke="#cfc8b4" stroke-width="4.8" stroke-linejoin="round" shape-rendering="crispEdges"/>
<polyline points="289.1,525.9 292.2,525.5 296.0,524.7 299.7,523.5 303.2,521.8 306.3,519.4 309.2,516.4 312.1,513.1 315.2,509.8 318.7,506.5 322.5,503.2 326.4,499.7 330.2,496.2 334.0,492.7 337.8,489.2 341.5,485.4 345.3,481.2 349.1,476.3 352.8,471.0 356.6,465.5 360.3,460.2 364.1,455.2 367.8,450.2 371.6,445.4 375.3,440.6 379.0,435.9 382.7,431.3 386.3,426.8 389.7,422.6 392.8,418.4 395.7,414.4 398.4,410.7 400.9,407.4 403.2,404.8 405.2,402.7 407.4,400.7 410.0,398.4 413.3,395.4 417.2,392.1 421.2,388.9 425.1,386.2 428.9,384.2 432.7,382.7 436.4,381.4 440.2,380.2 444.0,379.1 447.7,378.2 451.5,377.3 455.2,376.5 459.1,375.7 463.0,375.0 466.8,374.3 470.2,373.5 473.2,372.8 475.8,372.2 478.3,371.2 480.8,369.7 483.5,367.2 486.2,364.0 488.8,360.7 491.3,357.7 493.6,355.2 495.8,352.9 498.0,350.7 500.3,348.6 502.8,346.5 505.4,344.4 508.0,342.5 510.8,341.1 513.6,340.4 516.6,340.1 519.6,340.0 522.9,339.6 526.5,338.8 530.4,337.8 534.3,336.8 537.9,335.9 541.1,335.1 544.2,334.4 547.1,333.7 549.9,332.9 552.7,332.1 555.4,331.4 558.0,330.4 560.5,329.1 562.9,327.2 565.2,324.9 567.5,322.5 569.8,320.3 572.0,318.3 574.3,316.3 576.5,314.4 578.8,312.6 581.1,310.9 583.5,309.3 585.8,307.8 587.8,306.6 589.1,305.7 590.1,305.2 591.1,304.7 592.6,304.0 594.9,302.9 597.7,301.5 600.5,300.2 602.9,299.1 604.3,298.3 605.2,297.7 606.2,297.1 607.6,296.5 609.9,295.7 612.7,294.8 615.5,293.9 617.9,293.1 619.3,292.2 620.3,291.2 621.3,290.4 622.6,289.7 624.5,289.4 626.8,289.3 629.2,289.1 631.4,288.7 633.4,287.8 635.3,286.6 637.1,285.4 638.9,284.5 640.5,284.2 641.9,284.1 643.5,284.2 645.2,284.1 647.3,283.8 649.5,283.4 651.8,282.9 653.9,282.6 655.5,282.4 657.0,282.4 658.5,282.3 660.2,282.2 662.3,282.0 664.5,281.7 666.8,281.5 668.9,281.2 670.6,281.1 672.1,281.0 673.6,281.0 675.3,280.9 677.1,280.8 679.0,280.6 681.2,280.5 684.0,280.5 686.5,280.7" fill="none" stroke="#0000ff" stroke-width="2.4" stroke-linejoin="round" shape-rendering="crispEdges"/>
<polyline points="784.4,293.9 786.1,294.0 787.5,294.0 788.9,294.0 790.4,293.9 792.2,293.8 794.1,293.7 796.0,293.6 797.9,293.2 799.6,292.6 801.2,291.9 803.0,291.1 805.4,290.2 808.7,289.2 812.7,288.0 816.7,286.8 820.5,285.6 823.9,284.4 827.0,283.2 830.0,282.0 832.8,280.9 835.1,279.9 837.0,278.9 839.0,278.0 841.2,276.8 843.8,275.5 846.6,274.0 849.5,272.4 852.4,270.6 855.2,268.5 858.0,266.2 860.8,263.8 863.6,261.7 866.4,259.8 869.2,258.1 872.0,256.5 874.8,254.9 877.6,253.4 880.4,252.1 883.2,250.8 886.0,249.4 888.8,248.0 891.6,246.5 894.4,245.1 897.2,243.8 900.0,242.6 902.8,241.4 905.6,240.4 908.4,239.3 911.2,238.3 914.0,237.2 916.8,236.3 919.6,235.4 922.4,234.6 925.2,234.0 928.0,233.3 930.8,232.6 933.6,231.8 936.4,231.1 939.2,230.2 942.0,229.2 944.9,227.9 947.8,226.5 950.7,225.0 953.2,223.6 955.2,222.4 956.9,221.2 958.5,220.0 960.5,218.2 962.9,215.7 965.6,212.7 968.3,209.7 971.0,207.0 973.5,204.8 976.0,202.9 978.6,201.1 981.4,199.2 984.5,197.2 987.8,195.2 991.2,193.3 994.6,191.7 998.0,190.8 1001.4,190.4 1004.8,189.9 1008.1,188.7 1011.2,186.7 1014.2,184.2 1017.2,181.3 1020.2,178.2 1023.2,174.7 1026.2,170.8 1029.2,166.9 1032.2,163.2 1035.2,159.9 1038.2,156.7 1041.2,153.7 1044.2,151.1 1047.1,148.8 1050.0,146.9 1053.0,145.1 1056.2,143.6 1059.7,142.2 1063.5,141.1 1067.4,140.1 1071.3,139.4 1075.4,139.0 1079.5,139.0 1083.7,139.0 1087.8,139.1 1091.7,139.2 1095.4,139.5 1099.2,139.6 1102.9,139.4 1106.7,138.7 1110.4,137.6 1114.2,136.4 1117.9,135.3 1121.6,134.3 1125.4,133.2 1129.1,132.4 1132.9,131.9 1134.4,131.9" fill="none" stroke="#cfc8b4" stroke-width="4.8" stroke-linejoin="round" shape-rendering="crispEdges"/>
<polyline points="784.4,293.9 786.1,294.0 787.5,294.0 788.9,294.0 790.4,293.9 792.2,293.8 794.1,293.7 796.0,293.6 797.9,293.2 799.6,292.6 801.2,291.9 803.0,291.1 805.4,290.2 808.7,289.2 812.7,288.0 816.7,286.8 820.5,285.6 823.9,284.4 827.0,283.2 830.0,282.0 832.8,280.9 835.1,279.9 837.0,278.9 839.0,278.0 841.2,276.8 843.8,275.5 846.6,274.0 849.5,272.4 852.4,270.6 855.2,268.5 858.0,266.2 860.8,263.8 863.6,261.7 866.4,259.8 869.2,258.1 872.0,256.5 874.8,254.9 877.6,253.4 880.4,252.1 883.2,250.8 886.0,249.4 888.8,248.0 891.6,246.5 894.4,245.1 897.2,243.8 900.0,242.6 902.8,241.4 905.6,240.4 908.4,239.3 911.2,238.3 914.0,237.2 916.8,236.3 919.6,235.4 922.4,234.6 925.2,234.0 928.0,233.3 930.8,232.6 933.6,231.8 936.4,231.1 939.2,230.2 942.0,229.2 944.9,227.9 947.8,226.5 950.7,225.0 953.2,223.6 955.2,222.4 956.9,221.2 958.5,220.0 960.5,218.2 962.9,215.7 965.6,212.7 968.3,209.7 971.0,207.0 973.5,204.8 976.0,202.9 978.6,201.1 981.4,199.2 984.5,197.2 987.8,195.2 991.2,193.3 994.6,191.7 998.0,190.8 1001.4,190.4 1004.8,189.9 1008.1,188.7 1011.2,186.7 1014.2,184.2 1017.2,181.3 1020.2,178.2 1023.2,174.7 1026.2,170.8 1029.2,166.9 1032.2,163.2 1035.2,159.9 1038.2,156.7 1041.2,153.7 1044.2,151.1 1047.1,148.8 1050.0,146.9 1053.0,145.1 1056.2,143.6 1059.7,142.2 1063.5,141.1 1067.4,140.1 1071.3,139.4 1075.4,139.0 1079.5,139.0 1083.7,139.0 1087.8,139.1 1091.7,139.2 1095.4,139.5 1099.2,139.6 1102.9,139.4 1106.7,138.7 1110.4,137.6 1114.2,136.4 1117.9,135.3 1121.6,134.3 1125.4,133.2 1129.1,132.4 1132.9,131.9 1134.4,131.9" fill="none" stroke="#0000ff" stroke-width="2.4" stroke-linejoin="round" shape-rendering="crispEdges"/>
<polyline points="1200.6,133.1 1205.2,132.0 1209.5,130.7 1213.1,129.5 1215.6,128.6" fill="none" stroke="#cfc8b4" stroke-width="4.8" stroke-linejoin="round" shape-rendering="crispEdges"/>
<polyline points="1200.6,133.1 1205.2,132.0 1209.5,130.7 1213.1,129.5 1215.6,128.6" fill="none" stroke="#0000ff" stroke-width="2.4" stroke-linejoin="round" shape-rendering="crispEdges"/>
<polyline points="0.0,651.0 8.4,648.9 20.4,645.8 33.5,642.5 45.0,639.5 54.6,637.1 63.7,634.8 71.7,632.6 78.2,630.3 82.6,628.0 85.3,625.8 87.5,623.5 90.2,621.4 93.8,619.5 97.6,617.7 101.5,616.0 105.3,614.3 109.1,612.7 112.8,611.2 116.6,609.7 120.3,608.2 124.0,606.8 127.8,605.4 131.5,604.0 135.3,602.6 139.1,601.3 142.9,599.9 146.6,598.6 150.4,597.4 154.2,596.3 157.9,595.2 161.6,594.2 165.4,593.3 169.2,592.5 173.0,591.7 176.7,591.0 180.5,590.3 184.3,589.6 188.0,589.0 191.8,588.3 195.5,587.6 199.2,586.9 203.0,586.3 206.7,585.6 210.5,585.0 214.3,584.3 218.1,583.7 221.8,583.1 225.6,582.5 229.5,581.9 233.5,581.3 237.2,580.7 240.6,580.1 243.3,579.5 245.5,579.0 247.6,578.4 250.0,577.8 252.8,577.1 255.7,576.5 258.9,575.8 262.5,575.0 266.6,574.3 271.1,573.5 275.8,572.7 280.1,571.9 284.0,571.1 287.8,570.3 291.4,569.4 295.1,568.5 298.9,567.6 302.7,566.7 306.4,565.7 310.2,564.6 314.0,563.5 317.7,562.2 321.5,560.9 325.2,559.4 328.9,557.9 332.7,556.2 336.4,554.4 340.2,552.5 344.0,550.5 347.8,548.3 351.6,546.0 355.3,543.7 358.7,541.3 361.9,538.7 365.3,536.1 369.1,533.5 373.5,530.8 378.4,528.1 383.3,525.3 387.9,522.7 391.9,520.0 395.6,517.4 399.2,514.8 402.9,512.3 406.7,509.9 410.4,507.5 414.2,505.2 417.9,503.0 421.7,501.0 425.5,499.0 429.2,497.1 433.0,495.2 436.8,493.5 440.5,491.8 444.2,490.3 448.0,488.7 451.8,487.1 455.6,485.6 459.4,484.1 463.1,482.5 466.5,480.9 469.9,479.2 473.3,477.5 476.6,475.6 480.0,473.7 483.4,471.7 486.7,469.7 490.0,467.7 493.1,465.6 496.0,463.5 499.0,461.4 502.5,459.4 506.6,457.3 511.1,455.3 515.8,453.4 520.1,451.4 524.0,449.6 527.8,447.7 531.4,445.9 535.1,444.1 538.9,442.3 542.7,440.5 546.4,438.7 550.2,436.9 554.0,435.1 557.8,433.3 561.6,431.4 565.2,429.5 568.6,427.6 571.8,425.6 575.1,423.7 578.6,421.7 582.6,419.8 587.0,417.8 591.3,415.9 595.3,414.0 598.7,412.2 601.7,410.4 604.7,408.7 608.0,406.9 611.5,405.1 615.2,403.4 619.0,401.6 623.0,399.8 627.2,398.0 631.6,396.1 636.0,394.3 640.2,392.5 644.1,390.7 647.9,388.9 651.7,387.2 655.4,385.6 659.2,384.0 663.0,382.5 666.7,381.0 670.5,379.6 674.3,378.2 678.0,376.9 681.8,375.7 685.5,374.5 689.2,373.3 693.0,372.1 696.7,371.0 700.5,370.0 704.3,369.0 708.1,368.0 711.8,367.0 715.6,366.1 719.3,365.1 722.9,364.1 726.5,363.1 730.4,362.1 734.5,361.0 738.7,359.9 743.1,358.8 747.6,357.6 752.4,356.5 757.4,355.3 762.5,354.1 767.8,353.0 773.5,351.9 779.4,350.9 785.2,349.9 790.4,348.8 794.7,347.8 798.4,346.8 801.8,345.7 805.4,344.5 808.9,343.2 812.3,341.7 816.0,340.2 820.5,338.5 826.0,336.7 832.3,334.8 839.0,332.8 846.0,330.8 853.5,328.7 861.6,326.7 869.5,324.6 876.5,322.6 882.7,320.8 888.1,318.9 893.1,317.2 897.5,315.5 901.2,313.9 904.2,312.3 907.0,310.8 910.1,309.4 913.7,307.9 917.4,306.6 921.3,305.2 925.1,303.8 928.9,302.5 932.6,301.1 936.4,299.8 940.2,298.4 944.0,297.0 947.7,295.5 951.5,294.1 955.2,292.6 958.9,291.1 962.7,289.6 966.4,288.0 970.2,286.4 974.0,284.8 977.8,283.2 981.5,281.6 985.3,279.9 989.1,278.3 992.8,276.7 996.6,275.0 1000.3,273.3 1004.0,271.6 1007.8,269.8 1011.5,268.0 1015.3,266.2 1019.1,264.3 1022.9,262.3 1026.6,260.3 1030.4,258.3 1034.2,256.3 1037.9,254.2 1041.6,252.2 1045.4,250.2 1049.1,248.3 1052.8,246.4 1056.6,244.5 1060.5,242.7 1064.6,240.9 1068.8,239.3 1073.0,237.6 1077.2,236.1 1081.2,234.6 1085.1,233.1 1089.0,231.7 1092.9,230.3 1096.7,228.9 1100.5,227.6 1104.2,226.3 1108.0,225.0 1111.7,223.6 1115.4,222.3 1119.1,221.0 1123.0,219.7 1127.2,218.3 1131.6,217.0 1136.0,215.8 1140.2,214.5 1144.2,213.3 1148.0,212.1 1151.8,211.0 1155.5,209.9 1159.3,208.8 1163.0,207.9 1166.7,206.9 1170.5,206.0 1174.3,205.1 1178.0,204.2 1181.8,203.3 1185.6,202.4 1189.4,201.6 1193.1,200.7 1196.9,199.9 1200.6,199.0 1204.7,198.1 1209.0,197.0 1212.9,196.1 1215.6,195.5" fill="none" stroke="#c8c4b8" stroke-width="6" stroke-linejoin="round" stroke-linecap="round" shape-rendering="crispEdges"/>
<polyline points="0.0,651.0 8.4,648.9 20.4,645.8 33.5,642.5 45.0,639.5 54.6,637.1 63.7,634.8 71.7,632.6 78.2,630.3 82.6,628.0 85.3,625.8 87.5,623.5 90.2,621.4 93.8,619.5 97.6,617.7 101.5,616.0 105.3,614.3 109.1,612.7 112.8,611.2 116.6,609.7 120.3,608.2 124.0,606.8 127.8,605.4 131.5,604.0 135.3,602.6 139.1,601.3 142.9,599.9 146.6,598.6 150.4,597.4 154.2,596.3 157.9,595.2 161.6,594.2 165.4,593.3 169.2,592.5 173.0,591.7 176.7,591.0 180.5,590.3 184.3,589.6 188.0,589.0 191.8,588.3 195.5,587.6 199.2,586.9 203.0,586.3 206.7,585.6 210.5,585.0 214.3,584.3 218.1,583.7 221.8,583.1 225.6,582.5 229.5,581.9 233.5,581.3 237.2,580.7 240.6,580.1 243.3,579.5 245.5,579.0 247.6,578.4 250.0,577.8 252.8,577.1 255.7,576.5 258.9,575.8 262.5,575.0 266.6,574.3 271.1,573.5 275.8,572.7 280.1,571.9 284.0,571.1 287.8,570.3 291.4,569.4 295.1,568.5 298.9,567.6 302.7,566.7 306.4,565.7 310.2,564.6 314.0,563.5 317.7,562.2 321.5,560.9 325.2,559.4 328.9,557.9 332.7,556.2 336.4,554.4 340.2,552.5 344.0,550.5 347.8,548.3 351.6,546.0 355.3,543.7 358.7,541.3 361.9,538.7 365.3,536.1 369.1,533.5 373.5,530.8 378.4,528.1 383.3,525.3 387.9,522.7 391.9,520.0 395.6,517.4 399.2,514.8 402.9,512.3 406.7,509.9 410.4,507.5 414.2,505.2 417.9,503.0 421.7,501.0 425.5,499.0 429.2,497.1 433.0,495.2 436.8,493.5 440.5,491.8 444.2,490.3 448.0,488.7 451.8,487.1 455.6,485.6 459.4,484.1 463.1,482.5 466.5,480.9 469.9,479.2 473.3,477.5 476.6,475.6 480.0,473.7 483.4,471.7 486.7,469.7 490.0,467.7 493.1,465.6 496.0,463.5 499.0,461.4 502.5,459.4 506.6,457.3 511.1,455.3 515.8,453.4 520.1,451.4 524.0,449.6 527.8,447.7 531.4,445.9 535.1,444.1 538.9,442.3 542.7,440.5 546.4,438.7 550.2,436.9 554.0,435.1 557.8,433.3 561.6,431.4 565.2,429.5 568.6,427.6 571.8,425.6 575.1,423.7 578.6,421.7 582.6,419.8 587.0,417.8 591.3,415.9 595.3,414.0 598.7,412.2 601.7,410.4 604.7,408.7 608.0,406.9 611.5,405.1 615.2,403.4 619.0,401.6 623.0,399.8 627.2,398.0 631.6,396.1 636.0,394.3 640.2,392.5 644.1,390.7 647.9,388.9 651.7,387.2 655.4,385.6 659.2,384.0 663.0,382.5 666.7,381.0 670.5,379.6 674.3,378.2 678.0,376.9 681.8,375.7 685.5,374.5 689.2,373.3 693.0,372.1 696.7,371.0 700.5,370.0 704.3,369.0 708.1,368.0 711.8,367.0 715.6,366.1 719.3,365.1 722.9,364.1 726.5,363.1 730.4,362.1 734.5,361.0 738.7,359.9 743.1,358.8 747.6,357.6 752.4,356.5 757.4,355.3 762.5,354.1 767.8,353.0 773.5,351.9 779.4,350.9 785.2,349.9 790.4,348.8 794.7,347.8 798.4,346.8 801.8,345.7 805.4,344.5 808.9,343.2 812.3,341.7 816.0,340.2 820.5,338.5 826.0,336.7 832.3,334.8 839.0,332.8 846.0,330.8 853.5,328.7 861.6,326.7 869.5,324.6 876.5,322.6 882.7,320.8 888.1,318.9 893.1,317.2 897.5,315.5 901.2,313.9 904.2,312.3 907.0,310.8 910.1,309.4 913.7,307.9 917.4,306.6 921.3,305.2 925.1,303.8 928.9,302.5 932.6,301.1 936.4,299.8 940.2,298.4 944.0,297.0 947.7,295.5 951.5,294.1 955.2,292.6 958.9,291.1 962.7,289.6 966.4,288.0 970.2,286.4 974.0,284.8 977.8,283.2 981.5,281.6 985.3,279.9 989.1,278.3 992.8,276.7 996.6,275.0 1000.3,273.3 1004.0,271.6 1007.8,269.8 1011.5,268.0 1015.3,266.2 1019.1,264.3 1022.9,262.3 1026.6,260.3 1030.4,258.3 1034.2,256.3 1037.9,254.2 1041.6,252.2 1045.4,250.2 1049.1,248.3 1052.8,246.4 1056.6,244.5 1060.5,242.7 1064.6,240.9 1068.8,239.3 1073.0,237.6 1077.2,236.1 1081.2,234.6 1085.1,233.1 1089.0,231.7 1092.9,230.3 1096.7,228.9 1100.5,227.6 1104.2,226.3 1108.0,225.0 1111.7,223.6 1115.4,222.3 1119.1,221.0 1123.0,219.7 1127.2,218.3 1131.6,217.0 1136.0,215.8 1140.2,214.5 1144.2,213.3 1148.0,212.1 1151.8,211.0 1155.5,209.9 1159.3,208.8 1163.0,207.9 1166.7,206.9 1170.5,206.0 1174.3,205.1 1178.0,204.2 1181.8,203.3 1185.6,202.4 1189.4,201.6 1193.1,200.7 1196.9,199.9 1200.6,199.0 1204.7,198.1 1209.0,197.0 1212.9,196.1 1215.6,195.5" fill="none" stroke="#0000ff" stroke-width="2.6" stroke-linejoin="round" stroke-linecap="round" shape-rendering="crispEdges"/>
<polyline points="158.6,523.3 160.1,523.3 161.6,523.4 163.2,523.6 165.4,524.1 168.6,524.8 172.5,525.8 176.6,526.9 180.5,527.8 184.3,528.6 188.2,529.4 192.0,530.2 195.5,530.8 198.6,531.3 201.3,531.8 204.1,532.1 207.5,532.3 211.7,532.4 216.4,532.3 221.2,532.2 225.6,531.9 229.5,531.5 233.0,531.1 236.5,530.5 240.3,530.0 240.6,529.9" fill="none" stroke="#dc143c" stroke-width="4" stroke-linejoin="round" shape-rendering="crispEdges"/>
<polyline points="270.3,525.6 274.3,525.7 278.9,526.0 283.7,526.2 288.1,526.0 289.1,525.9" fill="none" stroke="#dc143c" stroke-width="4" stroke-linejoin="round" shape-rendering="crispEdges"/>
<polyline points="686.5,280.7 687.5,280.7 691.7,281.0 696.0,281.4 700.2,281.9 704.0,282.6 707.8,283.4 711.5,284.2 715.2,284.9 718.9,285.5 722.7,285.9 726.4,286.4 730.2,286.8 734.0,287.2 737.8,287.6 741.5,287.9 745.3,288.3 749.1,288.7 752.8,289.2 756.6,289.6 760.3,290.2 764.2,290.9 768.2,291.8 772.0,292.6 775.3,293.2 778.1,293.6 780.4,293.7 782.5,293.8 784.4,293.9" fill="none" stroke="#dc143c" stroke-width="4" stroke-linejoin="round" shape-rendering="crispEdges"/>
<polyline points="1134.4,131.9 1136.6,132.0 1140.2,132.4 1143.9,133.1 1148.0,133.8 1152.8,134.8 1158.0,136.0 1163.2,137.0 1167.5,137.6 1170.5,137.5 1172.6,136.8 1174.7,136.0 1178.0,135.3 1183.0,134.8 1189.0,134.3 1195.2,133.8 1200.6,133.1" fill="none" stroke="#dc143c" stroke-width="4" stroke-linejoin="round" shape-rendering="crispEdges"/>
<polyline points="0.0,583.0 1.3,581.6 3.2,579.7 5.7,577.3 9.0,574.7 13.6,571.6 19.2,568.1 25.0,564.4 30.1,560.8 34.3,557.3 38.0,553.8 41.5,550.3 45.1,547.1 48.9,544.0 52.6,541.1 56.4,538.3 60.2,535.6 64.0,533.0 67.7,530.5 71.5,528.2 75.2,525.9 78.9,523.7 82.7,521.6 86.4,519.6 90.2,517.8 94.1,516.1 98.2,514.6 102.1,513.3 105.3,512.2 107.4,511.4 108.6,510.8 110.0,510.4 112.8,510.2 117.5,510.1 123.6,510.2 129.8,510.5 135.3,510.9 139.6,511.6 143.3,512.4 146.8,513.4 150.4,514.4 154.2,515.4 157.9,516.6 161.6,517.8 165.4,519.0 169.2,520.2 173.0,521.5 176.7,522.7 180.5,523.9 184.3,525.1 188.0,526.2 191.8,527.2 195.5,528.1 199.2,528.8 203.0,529.3 206.7,529.7 210.5,529.9 214.3,529.9 218.1,529.8 221.9,529.5 225.6,529.1 229.2,528.6 232.8,527.9 236.5,527.1 240.3,526.0 244.5,524.7 249.0,523.1 253.5,521.4 257.5,519.7 260.9,518.0 263.9,516.1 266.9,514.2 270.1,512.0 273.7,509.7 277.4,507.2 281.3,504.4 285.1,501.4 288.9,498.0 292.7,494.3 296.4,490.3 300.2,486.0 304.0,481.4 307.7,476.5 311.5,471.3 315.2,466.2 318.9,461.0 322.6,455.6 326.3,450.2 330.2,444.9 334.3,439.6 338.7,434.3 342.9,429.1 346.8,424.3 350.3,419.9 353.5,415.8 356.3,412.1 358.8,408.6 360.6,405.7 361.7,403.2 363.0,400.8 364.8,398.0 367.6,394.6 370.9,391.0 374.4,387.2 377.6,383.6 380.6,379.9 383.5,376.1 386.3,372.5 389.0,369.2 391.7,366.4 394.3,363.8 396.9,361.5 399.5,359.3 402.0,357.5 404.5,355.9 407.1,354.4 410.1,352.9 413.5,351.3 417.3,349.8 421.2,348.3 425.1,346.9 428.9,345.5 432.7,344.3 436.4,343.1 440.2,342.0 444.0,341.0 447.7,340.1 451.5,339.2 455.2,338.4 458.9,337.7 462.7,337.0 466.4,336.4 470.2,335.6 474.0,334.7 477.8,333.7 481.5,332.7 485.3,331.5 489.1,330.1 492.8,328.6 496.6,326.9 500.3,325.3 504.0,323.7 507.8,322.0 511.5,320.4 515.3,318.7 519.1,317.1 522.8,315.6 526.6,313.9 530.4,312.3 534.2,310.5 537.9,308.7 541.6,306.8 545.4,305.0 549.2,303.2 553.1,301.3 556.9,299.6 560.5,297.9 563.9,296.4 567.3,294.9 570.3,293.6 572.8,292.4 574.4,291.3 575.4,290.3 576.3,289.4 577.5,288.5 579.2,287.6 581.1,286.7 583.1,285.8 585.0,285.0 586.9,284.1 588.8,283.4 590.7,282.6 592.6,281.9 594.5,281.2 596.4,280.5 598.2,279.9 600.1,279.3 602.0,278.7 603.9,278.1 605.7,277.5 607.6,277.0 609.5,276.4 611.4,275.9 613.2,275.4 615.1,275.0 616.7,274.5 618.2,274.0 620.0,273.6 622.6,273.3 626.4,273.1 631.0,273.0 635.7,272.9 640.0,272.9 643.6,272.9 646.8,272.9 649.8,273.0 652.7,273.1 655.4,273.4 658.0,273.7 660.5,274.0 663.3,274.4 666.6,274.9 670.1,275.5 673.6,276.1 676.5,276.6 678.5,277.2 679.9,277.7 681.2,278.3 682.8,279.0 684.6,279.6 686.5,280.4 688.7,281.2 691.5,282.0 695.0,283.0 699.2,284.1 703.5,285.2 707.7,286.2 711.5,287.2 715.3,288.1 719.0,289.0 722.7,289.7 726.3,290.2 729.7,290.7 733.4,291.0 737.7,291.2 743.1,291.4 749.3,291.5 755.3,291.5 760.3,291.5 763.7,291.4 766.2,291.2 768.3,290.9 770.8,290.6 773.8,290.2 777.0,289.7 780.2,289.1 782.9,288.5 784.9,287.7 786.5,286.9 788.1,285.9 790.4,284.7 793.6,283.2 797.4,281.4 801.5,279.5 805.4,277.5 809.3,275.3 813.3,273.0 817.1,270.7 820.5,268.5 823.2,266.6 825.5,264.8 827.6,263.1 830.0,261.3 832.7,259.4 835.5,257.5 838.4,255.6 841.2,253.6 844.0,251.5 846.8,249.4 849.6,247.2 852.4,245.1 855.2,243.1 858.0,241.0 860.8,239.1 863.6,237.1 866.4,235.3 869.2,233.5 872.0,231.7 874.8,230.0 877.6,228.4 880.4,226.8 883.2,225.2 886.0,223.7 888.8,222.2 891.6,220.8 894.4,219.4 897.2,218.0 900.0,216.6 902.8,215.3 905.6,213.9 908.4,212.6 911.2,211.4 914.0,210.2 916.8,209.0 919.6,207.8 922.4,206.6 925.2,205.4 928.0,204.1 930.8,202.9 933.6,201.6 936.4,200.2 939.2,198.9 942.0,197.5 944.9,196.0 947.9,194.6 950.7,193.1 953.2,191.5 955.0,190.1 956.4,188.6 957.8,187.1 960.0,185.2 963.2,182.9 967.0,180.3 971.1,177.5 975.0,174.5 978.8,171.1 982.5,167.6 986.3,163.8 990.1,160.2 993.9,156.5 997.6,152.8 1001.3,149.2 1005.1,145.7 1008.9,142.5 1012.6,139.3 1016.4,136.4 1020.2,133.7 1024.0,131.2 1027.9,128.9 1031.7,126.9 1035.2,125.1 1038.4,123.7 1041.5,122.5 1044.4,121.6 1047.2,120.8 1049.7,120.1 1052.0,119.6 1054.5,119.3 1057.7,119.1 1062.0,119.0 1067.0,119.0 1072.3,119.1 1077.3,119.4 1082.0,119.8 1086.6,120.4 1091.0,121.1 1095.3,121.8 1099.3,122.5 1103.0,123.3 1106.7,124.0 1110.4,124.8 1114.2,125.5 1117.9,126.3 1121.6,127.0 1125.4,127.7 1129.2,128.3 1133.0,128.9 1136.7,129.4 1140.5,129.8 1144.3,130.2 1148.0,130.5 1151.8,130.8 1155.5,130.9 1159.2,131.1 1163.0,131.1 1166.7,131.1 1170.5,131.0 1174.3,130.9 1178.0,130.6 1181.8,130.4 1185.6,130.1 1189.4,129.8 1193.1,129.5 1196.9,129.2 1200.6,128.9 1204.7,128.6 1209.0,128.3 1212.9,128.0 1215.6,127.8" fill="none" stroke="#ffffff" stroke-width="2" stroke-linejoin="round" shape-rendering="crispEdges"/>
<polyline points="0.0,461.7 15.0,442.1 30.1,432.3 47.4,427.1 49.6,419.5 58.2,386.1 64.1,368.6 79.3,326.4 95.4,325.2 108.5,294.4 111.5,286.6 191.5,286.6 208.3,263.8 271.5,262.1 287.3,245.3 319.2,245.3 336.0,240.4 544.2,240.4 556.2,226.4 562.3,218.1 575.0,192.6 589.3,188.5 655.5,188.5 667.5,170.0 673.5,161.3 687.0,126.7 719.6,126.5 735.6,90.7 751.4,65.5" fill="none" stroke="#ff9800" stroke-width="1"  shape-rendering="crispEdges"/>
<polyline points="0.0,672.3 160.4,672.3 175.4,667.3 190.5,643.2 207.0,630.0 262.6,623.8 274.1,614.0 286.8,588.6 319.9,588.3 335.0,568.6 559.5,568.6 575.0,557.5 587.7,484.0 591.5,459.8 623.8,442.5 636.6,398.9 639.0,389.4 662.9,386.5 735.9,386.5 750.0,371.8 766.6,348.7 789.0,348.7 808.4,342.8 846.2,322.5 1215.5,322.5" fill="none" stroke="#ff9800" stroke-width="1"  shape-rendering="crispEdges"/>
<g shape-rendering="crispEdges">
<line x1="0" y1="404.5" x2="1729" y2="404.5" stroke="#00ff00" stroke-width="1" stroke-dasharray="3 3" stroke-dashoffset="5"/>
<line x1="262" y1="581.5" x2="1729" y2="581.5" stroke="#32cd32" stroke-width="1" stroke-dasharray="9 6 3 6" stroke-dashoffset="15"/>
<rect x="0" y="156" width="1729" height="1" fill="#00e5ee" />
<rect x="0" y="491" width="1729" height="1" fill="#ffffff" />
</g>
<circle cx="1038.6" cy="63.6" r="24.4" fill="#ffff00"/>
<circle cx="1038.6" cy="63.6" r="19.6" fill="#ff69b4"/>
<circle cx="1038.6" cy="63.6" r="13.5" fill="#e6e6fa"/>
<g shape-rendering="crispEdges">
<rect x="1005" y="64" width="62" height="3" fill="#ff8c00" />
</g>
<circle cx="1038.6" cy="63.6" r="7.8" fill="#ff69b4"/>
<polyline points="1000.0,77.6 1030.0,67.8" fill="none" stroke="#ffffff" stroke-width="4"  shape-rendering="crispEdges"/>
<polyline points="1000.0,75.7 1032.3,67.8" fill="none" stroke="#1e90ff" stroke-width="5.2"  shape-rendering="crispEdges"/>
<g shape-rendering="crispEdges">
<rect x="1038" y="65" width="2" height="22" fill="#00bfff" />
<rect x="1054" y="70" width="2" height="15" fill="#00bfff" />
<rect x="1034" y="86" width="11" height="6" fill="#00bfff" />
<rect x="1050" y="84" width="11" height="6" fill="#00bfff" />
</g>
<path transform="translate(95,539)" fill="#ffffff" d="M0,-7 L5.9,0.4 L4.6,2 L1.8,-1.4 L1.8,7 L-1.8,7 L-1.8,-1.4 L-4.6,2 L-5.9,0.4 Z"/>
<path transform="translate(47,614)" fill="#ffffff" d="M0,-7 L5.9,0.4 L4.6,2 L1.8,-1.4 L1.8,7 L-1.8,7 L-1.8,-1.4 L-4.6,2 L-5.9,0.4 Z"/>
<path transform="translate(271,579)" fill="#ffffff" d="M0,-7 L5.9,0.4 L4.6,2 L1.8,-1.4 L1.8,7 L-1.8,7 L-1.8,-1.4 L-4.6,2 L-5.9,0.4 Z"/>
<path transform="translate(303,591)" fill="#ffffff" d="M0,-7 L5.9,0.4 L4.6,2 L1.8,-1.4 L1.8,7 L-1.8,7 L-1.8,-1.4 L-4.6,2 L-5.9,0.4 Z"/>
<path transform="translate(495.4,367.5)" fill="#ffffff" d="M0,-7 L5.9,0.4 L4.6,2 L1.8,-1.4 L1.8,7 L-1.8,7 L-1.8,-1.4 L-4.6,2 L-5.9,0.4 Z"/>
<path transform="translate(559,366.5)" fill="#ffffff" d="M0,-7 L5.9,0.4 L4.6,2 L1.8,-1.4 L1.8,7 L-1.8,7 L-1.8,-1.4 L-4.6,2 L-5.9,0.4 Z"/>
<path transform="translate(798.5,323.5)" fill="#ffffff" d="M0,-7 L5.9,0.4 L4.6,2 L1.8,-1.4 L1.8,7 L-1.8,7 L-1.8,-1.4 L-4.6,2 L-5.9,0.4 Z"/>
<path transform="translate(847,294.5)" fill="#ffffff" d="M0,-7 L5.9,0.4 L4.6,2 L1.8,-1.4 L1.8,7 L-1.8,7 L-1.8,-1.4 L-4.6,2 L-5.9,0.4 Z"/>
<path transform="translate(894.7,250.5)" fill="#ffffff" d="M0,-7 L5.9,0.4 L4.6,2 L1.8,-1.4 L1.8,7 L-1.8,7 L-1.8,-1.4 L-4.6,2 L-5.9,0.4 Z"/>
<path transform="translate(959,236)" fill="#ffffff" d="M0,-7 L5.9,0.4 L4.6,2 L1.8,-1.4 L1.8,7 L-1.8,7 L-1.8,-1.4 L-4.6,2 L-5.9,0.4 Z"/>
<path transform="translate(1022.3,186.5)" fill="#ffffff" d="M0,-7 L5.9,0.4 L4.6,2 L1.8,-1.4 L1.8,7 L-1.8,7 L-1.8,-1.4 L-4.6,2 L-5.9,0.4 Z"/>
<path transform="translate(1118.5,163.5)" fill="#ffffff" d="M0,-7 L5.9,0.4 L4.6,2 L1.8,-1.4 L1.8,7 L-1.8,7 L-1.8,-1.4 L-4.6,2 L-5.9,0.4 Z"/>
<path transform="translate(1198.7,166.5)" fill="#ffffff" d="M0,-7 L5.9,0.4 L4.6,2 L1.8,-1.4 L1.8,7 L-1.8,7 L-1.8,-1.4 L-4.6,2 L-5.9,0.4 Z"/>
<g transform="translate(734.7,272.6)" stroke="#ffee00" stroke-width="3.6" stroke-linecap="round"><path d="M-4.5,-4 L4.5,4 M4.5,-4.5 L-4.5,3.5"/></g>
<line x1="911" y1="373.7" x2="355" y2="440" stroke="#ffffff" stroke-width="1" stroke-dasharray="18.13 6.04" shape-rendering="crispEdges"/>
<line x1="1056" y1="357.7" x2="879.5" y2="232" stroke="#ffffff" stroke-width="1" stroke-dasharray="22.10 7.37" shape-rendering="crispEdges"/>
<line x1="1230.2" y1="385.2" x2="1405.7" y2="643" stroke="#ffffff" stroke-width="1" stroke-dasharray="21.78 7.26" shape-rendering="crispEdges"/>
<g shape-rendering="crispEdges">
<line x1="1135" y1="97.5" x2="1249" y2="97.5" stroke="#ffffff" stroke-width="1" stroke-dasharray="18 6" stroke-dashoffset="0"/>
<line x1="1249" y1="98.5" x2="1359" y2="98.5" stroke="#ffffff" stroke-width="1" stroke-dasharray="18 6" stroke-dashoffset="18"/>
<line x1="1087" y1="156.5" x2="1225" y2="156.5" stroke="#ffffff" stroke-width="1" stroke-dasharray="18 6" stroke-dashoffset="0"/>
<line x1="1225" y1="157.5" x2="1369" y2="157.5" stroke="#ffffff" stroke-width="1" stroke-dasharray="18 6" stroke-dashoffset="18"/>
<line x1="1167" y1="175.5" x2="1353" y2="175.5" stroke="#ffffff" stroke-width="1" stroke-dasharray="18 6" stroke-dashoffset="0"/>
</g>
<polyline points="797.4,675.5 828.0,671.5 909.4,651.6 1011.3,628.0 1120.0,604.2 1216.2,578.2" fill="none" stroke="#ffd700" stroke-width="3" stroke-linecap="round" stroke-linejoin="round" shape-rendering="crispEdges"/>
<g shape-rendering="crispEdges">
<rect x="12" y="672" width="7" height="4" fill="#4169e1" />
<rect x="28" y="672" width="7" height="4" fill="#4169e1" />
<rect x="44" y="672" width="7" height="4" fill="#4169e1" />
<rect x="60" y="672" width="7" height="4" fill="#4169e1" />
<rect x="76" y="672" width="7" height="4" fill="#4169e1" />
<rect x="92" y="672" width="7" height="4" fill="#4169e1" />
<rect x="108" y="672" width="7" height="4" fill="#4169e1" />
<rect x="124" y="672" width="7" height="4" fill="#4169e1" />
<rect x="140" y="672" width="7" height="4" fill="#4169e1" />
<rect x="156" y="672" width="7" height="4" fill="#4169e1" />
<rect x="172" y="672" width="7" height="4" fill="#4169e1" />
<rect x="188" y="672" width="7" height="4" fill="#4169e1" />
<rect x="204" y="672" width="7" height="4" fill="#4169e1" />
<rect x="220" y="672" width="7" height="4" fill="#4169e1" />
<rect x="236" y="672" width="7" height="4" fill="#4169e1" />
<rect x="252" y="672" width="7" height="4" fill="#4169e1" />
<rect x="268" y="672" width="7" height="4" fill="#4169e1" />
<rect x="284" y="672" width="7" height="4" fill="#4169e1" />
<rect x="300" y="672" width="7" height="4" fill="#4169e1" />
<rect x="316" y="672" width="7" height="4" fill="#4169e1" />
<rect x="332" y="672" width="7" height="4" fill="#4169e1" />
<rect x="348" y="672" width="7" height="4" fill="#4169e1" />
<rect x="364" y="672" width="7" height="4" fill="#4169e1" />
<rect x="380" y="672" width="7" height="4" fill="#4169e1" />
<rect x="396" y="672" width="7" height="4" fill="#4169e1" />
<rect x="412" y="672" width="7" height="4" fill="#4169e1" />
<rect x="428" y="672" width="7" height="4" fill="#4169e1" />
<rect x="444" y="672" width="7" height="4" fill="#4169e1" />
<rect x="460" y="672" width="7" height="4" fill="#4169e1" />
<rect x="476" y="672" width="7" height="4" fill="#4169e1" />
<rect x="492" y="672" width="7" height="4" fill="#4169e1" />
<rect x="508" y="672" width="7" height="4" fill="#4169e1" />
<rect x="524" y="672" width="7" height="4" fill="#4169e1" />
<rect x="540" y="672" width="7" height="4" fill="#4169e1" />
<rect x="556" y="672" width="7" height="4" fill="#4169e1" />
<rect x="572" y="672" width="7" height="4" fill="#4169e1" />
<rect x="588" y="672" width="7" height="4" fill="#4169e1" />
<rect x="604" y="672" width="7" height="4" fill="#4169e1" />
<rect x="620" y="672" width="7" height="4" fill="#4169e1" />
<rect x="636" y="672" width="7" height="4" fill="#4169e1" />
<rect x="652" y="672" width="7" height="4" fill="#4169e1" />
<rect x="668" y="672" width="7" height="4" fill="#4169e1" />
<rect x="684" y="672" width="7" height="4" fill="#4169e1" />
<rect x="700" y="672" width="7" height="4" fill="#4169e1" />
<rect x="716" y="672" width="7" height="4" fill="#4169e1" />
<rect x="732" y="672" width="7" height="4" fill="#4169e1" />
<rect x="748" y="672" width="7" height="4" fill="#4169e1" />
<rect x="764" y="672" width="7" height="4" fill="#4169e1" />
<rect x="780" y="672" width="7" height="4" fill="#4169e1" />
<rect x="796" y="672" width="7" height="4" fill="#4169e1" />
<rect x="812" y="672" width="7" height="4" fill="#4169e1" />
<rect x="828" y="672" width="7" height="4" fill="#4169e1" />
<rect x="844" y="672" width="7" height="4" fill="#4169e1" />
<rect x="860" y="672" width="7" height="4" fill="#4169e1" />
<rect x="876" y="672" width="7" height="4" fill="#4169e1" />
<rect x="892" y="672" width="7" height="4" fill="#4169e1" />
<rect x="908" y="672" width="7" height="4" fill="#4169e1" />
<rect x="924" y="672" width="7" height="4" fill="#4169e1" />
<rect x="940" y="672" width="7" height="4" fill="#4169e1" />
<rect x="956" y="672" width="7" height="4" fill="#4169e1" />
<rect x="972" y="672" width="7" height="4" fill="#4169e1" />
<rect x="988" y="672" width="7" height="4" fill="#4169e1" />
<rect x="1004" y="672" width="7" height="4" fill="#4169e1" />
<rect x="1020" y="672" width="7" height="4" fill="#4169e1" />
<rect x="1036" y="672" width="7" height="4" fill="#4169e1" />
<rect x="1052" y="672" width="7" height="4" fill="#4169e1" />
<rect x="1068" y="672" width="7" height="4" fill="#4169e1" />
<rect x="1084" y="672" width="7" height="4" fill="#4169e1" />
<rect x="1100" y="672" width="7" height="4" fill="#4169e1" />
<rect x="1116" y="672" width="7" height="4" fill="#4169e1" />
<rect x="1132" y="672" width="7" height="4" fill="#4169e1" />
<rect x="1148" y="672" width="7" height="4" fill="#4169e1" />
<rect x="1164" y="672" width="7" height="4" fill="#4169e1" />
<rect x="1180" y="672" width="7" height="4" fill="#4169e1" />
<rect x="1196" y="672" width="7" height="4" fill="#4169e1" />
<rect x="1212" y="672" width="7" height="4" fill="#4169e1" />
</g>
<g shape-rendering="crispEdges">
<rect x="0" y="676" width="1729" height="1" fill="#b4b4b4" />
<rect x="0" y="678" width="1729" height="1" fill="#b4b4b4" />
<rect x="0" y="789" width="1729" height="1" fill="#b4b4b4" />
<rect x="0" y="791" width="1729" height="1" fill="#b4b4b4" />
<rect x="0" y="837" width="1729" height="1" fill="#b4b4b4" />
<rect x="0" y="839" width="1729" height="1" fill="#b4b4b4" />
<rect x="0" y="867" width="1729" height="1" fill="#b4b4b4" />
<rect x="0" y="870" width="1729" height="1" fill="#b4b4b4" />
<rect x="0" y="677" width="1729" height="1" fill="#000" />
<line x1="0" y1="723.5" x2="1216" y2="723.5" stroke="#00a000" stroke-width="1" stroke-dasharray="3 3" stroke-dashoffset="5"/>
<line x1="0" y1="734.5" x2="1729" y2="734.5" stroke="#e0e0e0" stroke-width="1" stroke-dasharray="3 3" stroke-dashoffset="5"/>
<line x1="0" y1="745.5" x2="1216" y2="745.5" stroke="#b00000" stroke-width="1" stroke-dasharray="3 3" stroke-dashoffset="5"/>
<rect x="0" y="792" width="1223" height="44" fill="#0055aa" />
<rect x="0" y="840" width="1223" height="26" fill="#0055aa" />
<rect x="7" y="792" width="1" height="44" fill="#000000" />
<rect x="7" y="840" width="1" height="26" fill="#000000" />
<rect x="23" y="792" width="1" height="44" fill="#000000" />
<rect x="23" y="840" width="1" height="26" fill="#000000" />
<rect x="39" y="792" width="1" height="44" fill="#000000" />
<rect x="39" y="840" width="1" height="26" fill="#000000" />
<rect x="55" y="792" width="1" height="44" fill="#000000" />
<rect x="55" y="840" width="1" height="26" fill="#000000" />
<rect x="71" y="792" width="1" height="44" fill="#000000" />
<rect x="71" y="840" width="1" height="26" fill="#000000" />
<rect x="87" y="792" width="1" height="44" fill="#000000" />
<rect x="87" y="840" width="1" height="26" fill="#000000" />
<rect x="103" y="792" width="1" height="44" fill="#000000" />
<rect x="103" y="840" width="1" height="26" fill="#000000" />
<rect x="119" y="792" width="1" height="44" fill="#000000" />
<rect x="119" y="840" width="1" height="26" fill="#000000" />
<rect x="135" y="792" width="1" height="44" fill="#000000" />
<rect x="135" y="840" width="1" height="26" fill="#000000" />
<rect x="151" y="792" width="1" height="44" fill="#000000" />
<rect x="151" y="840" width="1" height="26" fill="#000000" />
<rect x="167" y="792" width="1" height="44" fill="#000000" />
<rect x="167" y="840" width="1" height="26" fill="#000000" />
<rect x="183" y="792" width="1" height="44" fill="#000000" />
<rect x="183" y="840" width="1" height="26" fill="#000000" />
<rect x="199" y="792" width="1" height="44" fill="#000000" />
<rect x="199" y="840" width="1" height="26" fill="#000000" />
<rect x="215" y="792" width="1" height="44" fill="#000000" />
<rect x="215" y="840" width="1" height="26" fill="#000000" />
<rect x="231" y="792" width="1" height="44" fill="#000000" />
<rect x="231" y="840" width="1" height="26" fill="#000000" />
<rect x="247" y="792" width="1" height="44" fill="#000000" />
<rect x="247" y="840" width="1" height="26" fill="#000000" />
<rect x="263" y="792" width="1" height="44" fill="#000000" />
<rect x="263" y="840" width="1" height="26" fill="#000000" />
<rect x="279" y="792" width="1" height="44" fill="#000000" />
<rect x="279" y="840" width="1" height="26" fill="#000000" />
<rect x="295" y="792" width="1" height="44" fill="#000000" />
<rect x="295" y="840" width="1" height="26" fill="#000000" />
<rect x="311" y="792" width="1" height="44" fill="#000000" />
<rect x="311" y="840" width="1" height="26" fill="#000000" />
<rect x="327" y="792" width="1" height="44" fill="#000000" />
<rect x="327" y="840" width="1" height="26" fill="#000000" />
<rect x="343" y="792" width="1" height="44" fill="#000000" />
<rect x="343" y="840" width="1" height="26" fill="#000000" />
<rect x="359" y="792" width="1" height="44" fill="#000000" />
<rect x="359" y="840" width="1" height="26" fill="#000000" />
<rect x="375" y="792" width="1" height="44" fill="#000000" />
<rect x="375" y="840" width="1" height="26" fill="#000000" />
<rect x="391" y="792" width="1" height="44" fill="#000000" />
<rect x="391" y="840" width="1" height="26" fill="#000000" />
<rect x="407" y="792" width="1" height="44" fill="#000000" />
<rect x="407" y="840" width="1" height="26" fill="#000000" />
<rect x="423" y="792" width="1" height="44" fill="#000000" />
<rect x="423" y="840" width="1" height="26" fill="#000000" />
<rect x="439" y="792" width="1" height="44" fill="#000000" />
<rect x="439" y="840" width="1" height="26" fill="#000000" />
<rect x="455" y="792" width="1" height="44" fill="#000000" />
<rect x="455" y="840" width="1" height="26" fill="#000000" />
<rect x="471" y="792" width="1" height="44" fill="#000000" />
<rect x="471" y="840" width="1" height="26" fill="#000000" />
<rect x="487" y="792" width="1" height="44" fill="#000000" />
<rect x="487" y="840" width="1" height="26" fill="#000000" />
<rect x="503" y="792" width="1" height="44" fill="#000000" />
<rect x="503" y="840" width="1" height="26" fill="#000000" />
<rect x="519" y="792" width="1" height="44" fill="#000000" />
<rect x="519" y="840" width="1" height="26" fill="#000000" />
<rect x="535" y="792" width="1" height="44" fill="#000000" />
<rect x="535" y="840" width="1" height="26" fill="#000000" />
<rect x="551" y="792" width="1" height="44" fill="#000000" />
<rect x="551" y="840" width="1" height="26" fill="#000000" />
<rect x="567" y="792" width="1" height="44" fill="#000000" />
<rect x="567" y="840" width="1" height="26" fill="#000000" />
<rect x="583" y="792" width="1" height="44" fill="#000000" />
<rect x="583" y="840" width="1" height="26" fill="#000000" />
<rect x="599" y="792" width="1" height="44" fill="#000000" />
<rect x="599" y="840" width="1" height="26" fill="#000000" />
<rect x="615" y="792" width="1" height="44" fill="#000000" />
<rect x="615" y="840" width="1" height="26" fill="#000000" />
<rect x="631" y="792" width="1" height="44" fill="#000000" />
<rect x="631" y="840" width="1" height="26" fill="#000000" />
<rect x="647" y="792" width="1" height="44" fill="#000000" />
<rect x="647" y="840" width="1" height="26" fill="#000000" />
<rect x="663" y="792" width="1" height="44" fill="#000000" />
<rect x="663" y="840" width="1" height="26" fill="#000000" />
<rect x="679" y="792" width="1" height="44" fill="#000000" />
<rect x="679" y="840" width="1" height="26" fill="#000000" />
<rect x="695" y="792" width="1" height="44" fill="#000000" />
<rect x="695" y="840" width="1" height="26" fill="#000000" />
<rect x="711" y="792" width="1" height="44" fill="#000000" />
<rect x="711" y="840" width="1" height="26" fill="#000000" />
<rect x="727" y="792" width="1" height="44" fill="#000000" />
<rect x="727" y="840" width="1" height="26" fill="#000000" />
<rect x="743" y="792" width="1" height="44" fill="#000000" />
<rect x="743" y="840" width="1" height="26" fill="#000000" />
<rect x="759" y="792" width="1" height="44" fill="#000000" />
<rect x="759" y="840" width="1" height="26" fill="#000000" />
<rect x="775" y="792" width="1" height="44" fill="#000000" />
<rect x="775" y="840" width="1" height="26" fill="#000000" />
<rect x="791" y="792" width="1" height="44" fill="#000000" />
<rect x="791" y="840" width="1" height="26" fill="#000000" />
<rect x="807" y="792" width="1" height="44" fill="#000000" />
<rect x="807" y="840" width="1" height="26" fill="#000000" />
<rect x="823" y="792" width="1" height="44" fill="#000000" />
<rect x="823" y="840" width="1" height="26" fill="#000000" />
<rect x="839" y="792" width="1" height="44" fill="#000000" />
<rect x="839" y="840" width="1" height="26" fill="#000000" />
<rect x="855" y="792" width="1" height="44" fill="#000000" />
<rect x="855" y="840" width="1" height="26" fill="#000000" />
<rect x="871" y="792" width="1" height="44" fill="#000000" />
<rect x="871" y="840" width="1" height="26" fill="#000000" />
<rect x="887" y="792" width="1" height="44" fill="#000000" />
<rect x="887" y="840" width="1" height="26" fill="#000000" />
<rect x="903" y="792" width="1" height="44" fill="#000000" />
<rect x="903" y="840" width="1" height="26" fill="#000000" />
<rect x="919" y="792" width="1" height="44" fill="#000000" />
<rect x="919" y="840" width="1" height="26" fill="#000000" />
<rect x="935" y="792" width="1" height="44" fill="#000000" />
<rect x="935" y="840" width="1" height="26" fill="#000000" />
<rect x="951" y="792" width="1" height="44" fill="#000000" />
<rect x="951" y="840" width="1" height="26" fill="#000000" />
<rect x="967" y="792" width="1" height="44" fill="#000000" />
<rect x="967" y="840" width="1" height="26" fill="#000000" />
<rect x="983" y="792" width="1" height="44" fill="#000000" />
<rect x="983" y="840" width="1" height="26" fill="#000000" />
<rect x="999" y="792" width="1" height="44" fill="#000000" />
<rect x="999" y="840" width="1" height="26" fill="#000000" />
<rect x="1015" y="792" width="1" height="44" fill="#000000" />
<rect x="1015" y="840" width="1" height="26" fill="#000000" />
<rect x="1031" y="792" width="1" height="44" fill="#000000" />
<rect x="1031" y="840" width="1" height="26" fill="#000000" />
<rect x="1047" y="792" width="1" height="44" fill="#000000" />
<rect x="1047" y="840" width="1" height="26" fill="#000000" />
<rect x="1063" y="792" width="1" height="44" fill="#000000" />
<rect x="1063" y="840" width="1" height="26" fill="#000000" />
<rect x="1079" y="792" width="1" height="44" fill="#000000" />
<rect x="1079" y="840" width="1" height="26" fill="#000000" />
<rect x="1095" y="792" width="1" height="44" fill="#000000" />
<rect x="1095" y="840" width="1" height="26" fill="#000000" />
<rect x="1111" y="792" width="1" height="44" fill="#000000" />
<rect x="1111" y="840" width="1" height="26" fill="#000000" />
<rect x="1127" y="792" width="1" height="44" fill="#000000" />
<rect x="1127" y="840" width="1" height="26" fill="#000000" />
<rect x="1143" y="792" width="1" height="44" fill="#000000" />
<rect x="1143" y="840" width="1" height="26" fill="#000000" />
<rect x="1159" y="792" width="1" height="44" fill="#000000" />
<rect x="1159" y="840" width="1" height="26" fill="#000000" />
<rect x="1175" y="792" width="1" height="44" fill="#000000" />
<rect x="1175" y="840" width="1" height="26" fill="#000000" />
<rect x="1191" y="792" width="1" height="44" fill="#000000" />
<rect x="1191" y="840" width="1" height="26" fill="#000000" />
<rect x="1207" y="792" width="1" height="44" fill="#000000" />
<rect x="1207" y="840" width="1" height="26" fill="#000000" />
<line x1="0" y1="813.5" x2="1216" y2="813.5" stroke="#70665c" stroke-width="1" stroke-dasharray="3 3" stroke-dashoffset="5"/>
<rect x="0" y="872" width="1729" height="1" fill="#b4b4b4" />
<rect x="47" y="872" width="1" height="4" fill="#b4b4b4" />
<rect x="111" y="872" width="1" height="4" fill="#b4b4b4" />
<rect x="175" y="872" width="1" height="4" fill="#b4b4b4" />
<rect x="239" y="872" width="1" height="4" fill="#b4b4b4" />
<rect x="303" y="872" width="1" height="4" fill="#b4b4b4" />
<rect x="367" y="872" width="1" height="4" fill="#b4b4b4" />
<rect x="431" y="872" width="1" height="4" fill="#b4b4b4" />
<rect x="495" y="872" width="1" height="4" fill="#b4b4b4" />
<rect x="559" y="872" width="1" height="4" fill="#b4b4b4" />
<rect x="623" y="872" width="1" height="4" fill="#b4b4b4" />
<rect x="687" y="872" width="1" height="4" fill="#b4b4b4" />
<rect x="751" y="872" width="1" height="4" fill="#b4b4b4" />
<rect x="815" y="872" width="1" height="4" fill="#b4b4b4" />
<rect x="879" y="872" width="1" height="4" fill="#b4b4b4" />
<rect x="943" y="872" width="1" height="4" fill="#b4b4b4" />
<rect x="1007" y="872" width="1" height="4" fill="#b4b4b4" />
<rect x="1071" y="872" width="1" height="4" fill="#b4b4b4" />
<rect x="1135" y="872" width="1" height="4" fill="#b4b4b4" />
<rect x="1199" y="872" width="1" height="4" fill="#b4b4b4" />
</g>
<text x="0.2" y="691" font-family="'Liberation Sans',sans-serif" font-size="9.5" fill="#a8a8a8" font-weight="normal" text-anchor="start" textLength="176" lengthAdjust="spacingAndGlyphs" >rch : VOLATILITY LOW 39.1675 102.0066</text>
<text x="7" y="804" font-family="'Liberation Sans',sans-serif" font-size="9.5" fill="#a8a8a8" font-weight="normal" text-anchor="start" textLength="303" lengthAdjust="spacingAndGlyphs" >Super trend of : Exponential moving average (10,36)  1.0000 32897.2072</text>
<text x="0" y="852" font-family="'Liberation Sans',sans-serif" font-size="9.5" fill="#c8c8c8" font-weight="normal" text-anchor="start" textLength="314" lengthAdjust="spacingAndGlyphs" >5  Super trend of : Exponential moving average (10,36)  1.0000 32825.0186</text>
<polyline points="0.0,691.1 24.0,687.7 70.0,686.1 120.0,683.1 128.0,683.7 140.0,689.1 160.0,689.7 190.5,711.1 206.5,716.1 230.6,716.5 240.6,717.1 270.6,711.7 286.7,713.1 340.0,702.1 366.1,694.5 392.1,691.1 424.2,689.4 448.3,689.4 462.3,693.7 480.3,694.5 504.4,692.5 536.5,691.7 552.5,690.4 598.6,690.0 616.7,688.6 640.7,688.6 652.7,692.1 680.0,694.5 688.0,695.1 702.0,703.1 718.1,707.1 738.1,708.5 766.2,716.5 786.3,715.1 826.4,710.1 860.4,701.7 880.5,699.1 908.6,696.5 930.6,696.5 942.6,699.7 960.7,697.7 1000.0,692.5 1012.0,691.7 1032.1,689.6 1048.1,688.6 1089.2,688.6 1102.2,693.1 1120.3,696.1 1150.4,705.1 1160.4,704.5 1190.5,704.5 1192.5,705.5 1206.5,705.5 1208.5,704.5 1216.1,704.5" fill="none" stroke="#1e90ff" stroke-width="3" stroke-linejoin="round" stroke-linecap="round" shape-rendering="crispEdges"/>
<polyline points="0.0,729.2 34.0,728.8 62.0,718.7 80.0,724.6 96.0,722.2 110.0,722.2 128.0,729.2 140.0,731.6 160.0,732.2 168.0,733.8 270.6,733.8 286.7,736.2 288.7,735.8 304.7,730.8 336.8,730.8 340.0,730.1 352.0,724.1 368.1,722.1 384.1,715.1 399.1,715.1 414.2,724.5 430.2,723.7 445.3,728.1 468.3,728.1 480.3,725.7 495.4,717.7 510.4,727.7 524.4,730.7 546.5,730.7 560.5,727.1 578.6,726.1 588.6,728.7 622.7,729.1 640.7,733.2 750.2,733.6 764.2,735.2 784.3,735.2 798.3,734.6 808.3,733.2 844.4,733.2 862.4,727.1 877.5,730.5 888.5,729.5 902.5,730.1 944.6,730.1 974.7,717.7 989.7,726.7 1007.8,726.7 1024.1,716.1 1041.1,716.1 1056.1,723.7 1084.2,731.7 1108.3,731.7 1114.3,729.7 1122.3,729.7 1132.3,733.2 1216.1,733.2" fill="none" stroke="#00ff7f" stroke-width="2" stroke-linejoin="round" shape-rendering="crispEdges"/>
<polyline points="270.6,734.2 286.7,736.2" fill="none" stroke="#dc143c" stroke-width="2.4"  shape-rendering="crispEdges"/>
<polyline points="750.2,733.6 764.2,735.4 784.3,735.4" fill="none" stroke="#dc143c" stroke-width="2.4"  shape-rendering="crispEdges"/>
<polyline points="0.0,798.5 104.0,798.5 106.0,796.9 160.0,796.9 170.0,798.5 190.5,801.3 230.6,802.3 274.7,802.3 286.7,803.9 298.0,803.3 312.8,801.3 340.0,800.7 376.0,799.3 424.0,797.5 598.0,797.5 600.0,796.3 680.0,796.3 692.0,796.7 700.0,798.3 728.1,799.9 764.2,803.3 790.3,803.3 808.3,801.3 840.4,800.7 888.5,798.3 950.7,797.5 1046.0,797.5 1048.0,796.3 1079.0,796.3 1080.0,797.5 1143.0,797.5 1144.0,798.5 1216.0,798.5" fill="none" stroke="#00ff7f" stroke-width="3" stroke-linejoin="round" stroke-linecap="round" shape-rendering="crispEdges"/>
<text x="0" y="14" font-family="'Liberation Sans',sans-serif" font-size="9.5" fill="#c0c0c0" font-weight="normal" text-anchor="start" textLength="37" lengthAdjust="spacingAndGlyphs" >US30,M5</text>
<text x="0" y="58" font-family="'Liberation Sans',sans-serif" font-size="9.5" fill="#a8a8a8" font-weight="normal" text-anchor="start" textLength="52" lengthAdjust="spacingAndGlyphs" >39606544 tp</text>
<text x="0" y="104" font-family="'Liberation Sans',sans-serif" font-size="9.5" fill="#a8a8a8" font-weight="normal" text-anchor="start" textLength="81" lengthAdjust="spacingAndGlyphs" >39606544 buy 0.10</text>
<text x="0" y="158" font-family="'Liberation Sans',sans-serif" font-size="9.5" fill="#a8a8a8" font-weight="normal" text-anchor="start" textLength="50" lengthAdjust="spacingAndGlyphs" >39606544 sl</text>
<g shape-rendering="crispEdges">
<rect x="61" y="5" width="155" height="16" fill="#9b2323" />
<rect x="218" y="5" width="132" height="16" fill="#0a6ed1" />
<rect x="352" y="5" width="149" height="16" fill="#9b2323" />
<rect x="3" y="16" width="60" height="20" fill="#d8b428" />
<rect x="4" y="17" width="58" height="18" fill="#696969" />
</g>
<text x="69.2" y="18" font-family="'Liberation Sans',sans-serif" font-size="13.4" fill="#ffffff" font-weight="bold" text-anchor="start" textLength="91.5" lengthAdjust="spacingAndGlyphs" stroke="#ffffff" stroke-width="0.45">HONG KONG</text>
<text x="167.6" y="18" font-family="'Liberation Sans',sans-serif" font-size="13.4" fill="#ffffff" font-weight="bold" text-anchor="start" textLength="39" lengthAdjust="spacingAndGlyphs" stroke="#ffffff" stroke-width="0.45">19:59</text>
<text x="228.2" y="18" font-family="'Liberation Sans',sans-serif" font-size="13.4" fill="#ffffff" font-weight="bold" text-anchor="start" textLength="62.6" lengthAdjust="spacingAndGlyphs" stroke="#ffffff" stroke-width="0.45">LONDON</text>
<text x="302.2" y="18" font-family="'Liberation Sans',sans-serif" font-size="13.4" fill="#ffffff" font-weight="bold" text-anchor="start" textLength="38.8" lengthAdjust="spacingAndGlyphs" stroke="#ffffff" stroke-width="0.45">12:59</text>
<text x="363" y="18" font-family="'Liberation Sans',sans-serif" font-size="13.4" fill="#ffffff" font-weight="bold" text-anchor="start" textLength="79.5" lengthAdjust="spacingAndGlyphs" stroke="#ffffff" stroke-width="0.45">NEW YORK</text>
<text x="449.6" y="18" font-family="'Liberation Sans',sans-serif" font-size="13.4" fill="#ffffff" font-weight="bold" text-anchor="start" textLength="40.3" lengthAdjust="spacingAndGlyphs" stroke="#ffffff" stroke-width="0.45">07:59</text>
<text x="8" y="31" font-family="'Liberation Sans',sans-serif" font-size="13.3" fill="#f0f0f0" font-weight="normal" text-anchor="start" textLength="47" lengthAdjust="spacingAndGlyphs" >Channel</text>
<text x="146.4" y="504.4" font-family="'Liberation Sans',sans-serif" font-size="16" fill="#ffffff" font-weight="normal" text-anchor="start" textLength="90.5" lengthAdjust="spacingAndGlyphs" >(down slope)</text>
<text x="316.6" y="473.4" font-family="'Liberation Sans',sans-serif" font-size="16" fill="#ffffff" font-weight="normal" text-anchor="start" textLength="69.5" lengthAdjust="spacingAndGlyphs" >(up slope)</text>
<text x="524.5" y="353.4" font-family="'Liberation Sans',sans-serif" font-size="16" fill="#ffffff" font-weight="normal" text-anchor="start" textLength="69.5" lengthAdjust="spacingAndGlyphs" >(up slope)</text>
<text x="674.2" y="261.5" font-family="'Liberation Sans',sans-serif" font-size="16" fill="#ffffff" font-weight="normal" text-anchor="start" textLength="90.5" lengthAdjust="spacingAndGlyphs" >(down slope)</text>
<text x="860.6" y="273.5" font-family="'Liberation Sans',sans-serif" font-size="16" fill="#ffffff" font-weight="normal" text-anchor="start" textLength="69.5" lengthAdjust="spacingAndGlyphs" >(up slope)</text>
<text x="1130.6" y="197.7" font-family="'Liberation Sans',sans-serif" font-size="16" fill="#ffffff" font-weight="normal" text-anchor="start" textLength="72.5" lengthAdjust="spacingAndGlyphs" >(flat slope)</text>
<text x="908" y="377.1" font-family="'Liberation Sans',sans-serif" font-size="19" fill="#ffffff" font-weight="normal" text-anchor="start" textLength="487" lengthAdjust="spacingAndGlyphs" stroke="#fff" stroke-width="0.25">Look the value of Tma slope and Look the mini Tma slope</text>
<text x="1351" y="662" font-family="'Liberation Sans',sans-serif" font-size="19" fill="#ffffff" font-weight="normal" text-anchor="start" textLength="154" lengthAdjust="spacingAndGlyphs" stroke="#fff" stroke-width="0.25">TMA Slope = 2.64</text>
<text x="1357" y="205" font-family="'Liberation Mono',monospace" font-size="18.6" fill="#87cefa" font-weight="bold" text-anchor="start" textLength="50.5" lengthAdjust="spacingAndGlyphs" >38.2%</text>
<text x="1357" y="418.6" font-family="'Liberation Mono',monospace" font-size="18.6" fill="#87cefa" font-weight="bold" text-anchor="start" textLength="50.5" lengthAdjust="spacingAndGlyphs" >21.4%</text>
<text x="1367" y="564.6" font-family="'Liberation Sans',sans-serif" font-size="16" fill="#00e5ff" font-weight="bold" text-anchor="start" textLength="30" lengthAdjust="spacingAndGlyphs" stroke="#00e5ff" stroke-width="0.5">BUY</text>
<text x="1719.3" y="670.4" font-family="'Liberation Sans',sans-serif" font-size="14" fill="#00ff7f" font-weight="bold" text-anchor="start" stroke="#00ff7f" stroke-width="0.7">U</text>
<g shape-rendering="crispEdges">
<rect x="1231" y="511" width="32" height="1" fill="#006400" />
<rect x="1231" y="606" width="32" height="1" fill="#d00000" />
</g>
<text x="1229" y="526" font-family="'Liberation Sans',sans-serif" font-size="16" fill="#808080" font-weight="normal" text-anchor="start" textLength="36.5" lengthAdjust="spacingAndGlyphs" >PWH</text>
<text x="1230" y="621" font-family="'Liberation Sans',sans-serif" font-size="16" fill="#808080" font-weight="normal" text-anchor="start" textLength="33.5" lengthAdjust="spacingAndGlyphs" >PDH</text>
<g shape-rendering="crispEdges">
<rect x="0" y="577" width="29" height="24" fill="#505050" />
<rect x="0" y="578" width="28" height="22" fill="#2a2a2a" />
</g>
<text x="-7" y="595" font-family="'Liberation Sans',sans-serif" font-size="14.5" fill="#808080" font-weight="normal" text-anchor="start" >OFF</text>
<g shape-rendering="crispEdges">
<rect x="0" y="624" width="293" height="19" fill="#0000ff" />
</g>
<text x="-5" y="640.5" font-family="'Liberation Sans',sans-serif" font-size="18.2" fill="#ffffff" font-weight="bold" text-anchor="start" textLength="290" lengthAdjust="spacingAndGlyphs" stroke="#ffffff" stroke-width="0.7">M5 UP TREND - BUYS ONLY</text>
<rect x="-5" y="651" width="68" height="25" rx="2" fill="#8b0000"/>
<rect x="83" y="651" width="70" height="25" rx="2" fill="#8b0000"/>
<text x="-2.3" y="670.9" font-family="'Liberation Sans',sans-serif" font-size="20.7" fill="#c4c4c4" font-weight="bold" text-anchor="start" textLength="58.5" lengthAdjust="spacingAndGlyphs" stroke="#c4c4c4" stroke-width="0.7">ZZALERT</text>
<text x="91" y="670.9" font-family="'Liberation Sans',sans-serif" font-size="20.7" fill="#c4c4c4" font-weight="bold" text-anchor="start" textLength="51" lengthAdjust="spacingAndGlyphs" stroke="#c4c4c4" stroke-width="0.7">ZZmini</text>
<text x="-17.2" y="885" font-family="'Liberation Sans',sans-serif" font-size="9.6" fill="#c8c8c8" font-weight="normal" text-anchor="start" textLength="51" lengthAdjust="spacingAndGlyphs" >30 Mar 2023</text>
<text x="46" y="885" font-family="'Liberation Sans',sans-serif" font-size="9.6" fill="#c8c8c8" font-weight="normal" text-anchor="start" textLength="55" lengthAdjust="spacingAndGlyphs" >30 Mar 08:50</text>
<text x="110" y="885" font-family="'Liberation Sans',sans-serif" font-size="9.6" fill="#c8c8c8" font-weight="normal" text-anchor="start" textLength="55" lengthAdjust="spacingAndGlyphs" >30 Mar 09:10</text>
<text x="174" y="885" font-family="'Liberation Sans',sans-serif" font-size="9.6" fill="#c8c8c8" font-weight="normal" text-anchor="start" textLength="55" lengthAdjust="spacingAndGlyphs" >30 Mar 09:30</text>
<text x="238" y="885" font-family="'Liberation Sans',sans-serif" font-size="9.6" fill="#c8c8c8" font-weight="normal" text-anchor="start" textLength="55" lengthAdjust="spacingAndGlyphs" >30 Mar 09:50</text>
<text x="302" y="885" font-family="'Liberation Sans',sans-serif" font-size="9.6" fill="#c8c8c8" font-weight="normal" text-anchor="start" textLength="55" lengthAdjust="spacingAndGlyphs" >30 Mar 10:10</text>
<text x="366" y="885" font-family="'Liberation Sans',sans-serif" font-size="9.6" fill="#c8c8c8" font-weight="normal" text-anchor="start" textLength="55" lengthAdjust="spacingAndGlyphs" >30 Mar 10:30</text>
<text x="430" y="885" font-family="'Liberation Sans',sans-serif" font-size="9.6" fill="#c8c8c8" font-weight="normal" text-anchor="start" textLength="55" lengthAdjust="spacingAndGlyphs" >30 Mar 10:50</text>
<text x="494" y="885" font-family="'Liberation Sans',sans-serif" font-size="9.6" fill="#c8c8c8" font-weight="normal" text-anchor="start" textLength="55" lengthAdjust="spacingAndGlyphs" >30 Mar 11:10</text>
<text x="558" y="885" font-family="'Liberation Sans',sans-serif" font-size="9.6" fill="#c8c8c8" font-weight="normal" text-anchor="start" textLength="55" lengthAdjust="spacingAndGlyphs" >30 Mar 11:30</text>
<text x="622" y="885" font-family="'Liberation Sans',sans-serif" font-size="9.6" fill="#c8c8c8" font-weight="normal" text-anchor="start" textLength="55" lengthAdjust="spacingAndGlyphs" >30 Mar 11:50</text>
<text x="686" y="885" font-family="'Liberation Sans',sans-serif" font-size="9.6" fill="#c8c8c8" font-weight="normal" text-anchor="start" textLength="55" lengthAdjust="spacingAndGlyphs" >30 Mar 12:10</text>
<text x="750" y="885" font-family="'Liberation Sans',sans-serif" font-size="9.6" fill="#c8c8c8" font-weight="normal" text-anchor="start" textLength="55" lengthAdjust="spacingAndGlyphs" >30 Mar 12:30</text>
<text x="814" y="885" font-family="'Liberation Sans',sans-serif" font-size="9.6" fill="#c8c8c8" font-weight="normal" text-anchor="start" textLength="55" lengthAdjust="spacingAndGlyphs" >30 Mar 12:50</text>
<text x="878" y="885" font-family="'Liberation Sans',sans-serif" font-size="9.6" fill="#c8c8c8" font-weight="normal" text-anchor="start" textLength="55" lengthAdjust="spacingAndGlyphs" >30 Mar 13:10</text>
<text x="942" y="885" font-family="'Liberation Sans',sans-serif" font-size="9.6" fill="#c8c8c8" font-weight="normal" text-anchor="start" textLength="55" lengthAdjust="spacingAndGlyphs" >30 Mar 13:30</text>
<text x="1006" y="885" font-family="'Liberation Sans',sans-serif" font-size="9.6" fill="#c8c8c8" font-weight="normal" text-anchor="start" textLength="55" lengthAdjust="spacingAndGlyphs" >30 Mar 13:50</text>
<text x="1070" y="885" font-family="'Liberation Sans',sans-serif" font-size="9.6" fill="#c8c8c8" font-weight="normal" text-anchor="start" textLength="55" lengthAdjust="spacingAndGlyphs" >30 Mar 14:10</text>
<text x="1134" y="885" font-family="'Liberation Sans',sans-serif" font-size="9.6" fill="#c8c8c8" font-weight="normal" text-anchor="start" textLength="55" lengthAdjust="spacingAndGlyphs" >30 Mar 14:30</text>
<text x="1198" y="885" font-family="'Liberation Sans',sans-serif" font-size="9.6" fill="#c8c8c8" font-weight="normal" text-anchor="start" textLength="55" lengthAdjust="spacingAndGlyphs" >30 Mar 14:50</text>
</svg>
</body></html>
